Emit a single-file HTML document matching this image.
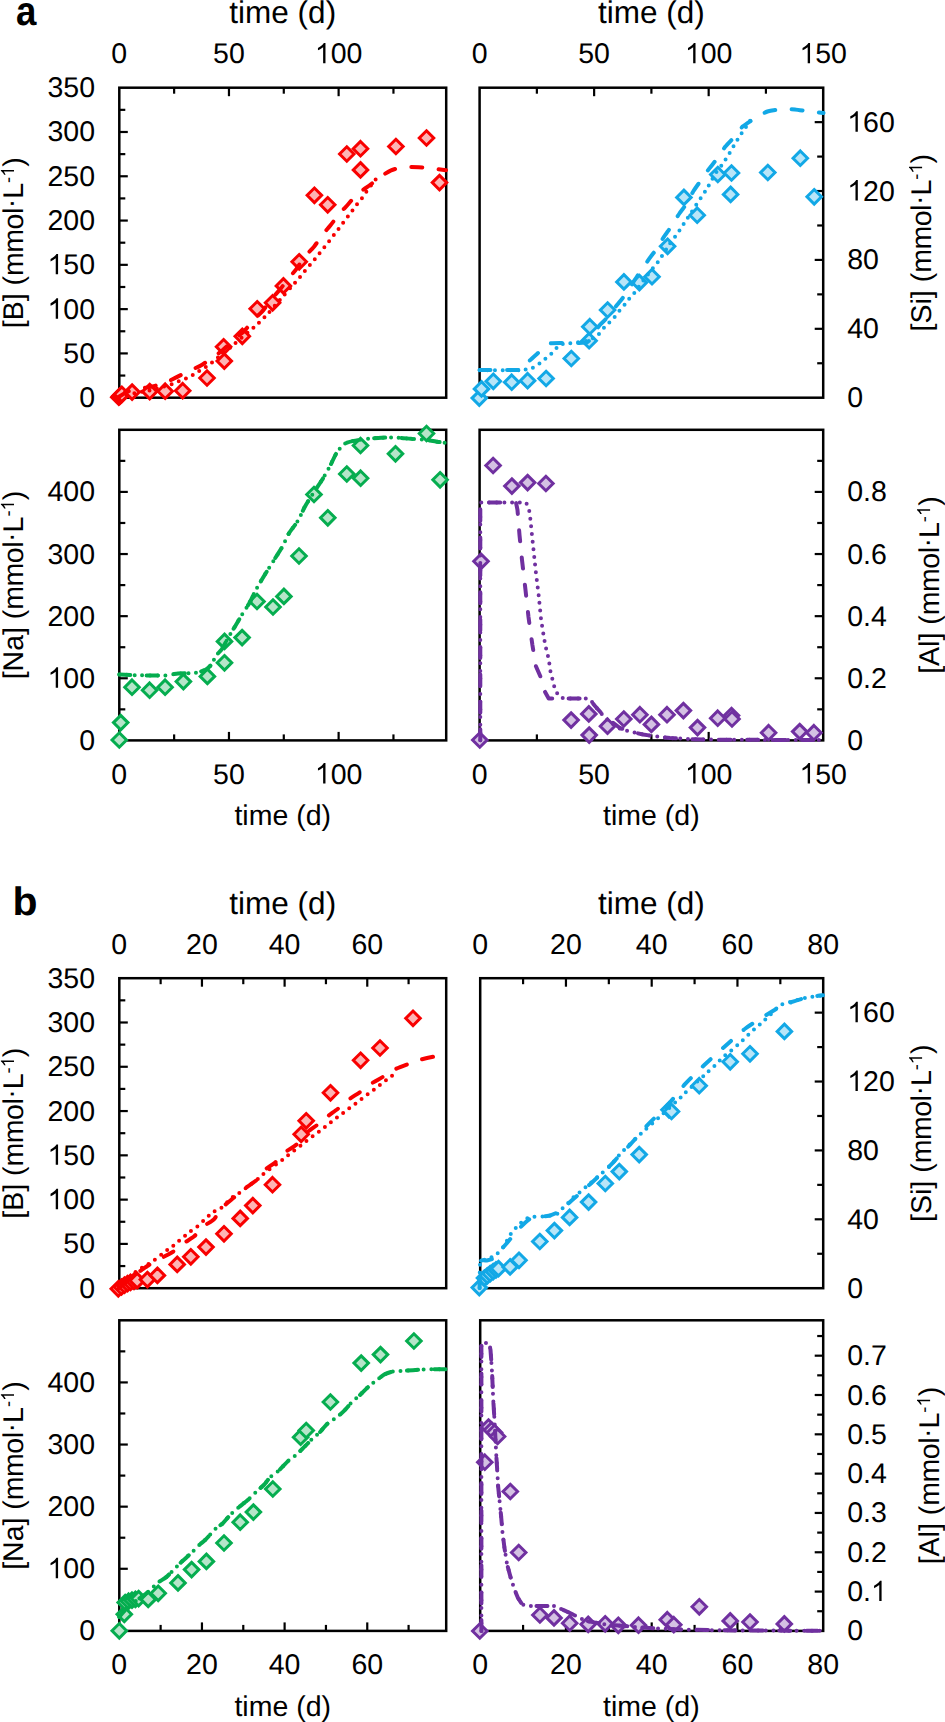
<!DOCTYPE html>
<html><head><meta charset="utf-8"><style>
html,body{margin:0;padding:0;background:#fff;}
svg{display:block;}
text{text-rendering:geometricPrecision;}
.t{font-family:"Liberation Sans", sans-serif;font-size:28.5px;fill:#000;}
.h{font-family:"Liberation Sans", sans-serif;font-size:28.5px;fill:#000;}
.h2{font-family:"Liberation Sans", sans-serif;font-size:31.5px;fill:#000;}
.p{font-family:"Liberation Sans", sans-serif;font-size:39px;font-weight:bold;fill:#000;}
</style></head><body>
<svg width="945" height="1722" viewBox="0 0 945 1722">
<defs><path id="one" d="M763,0 L595,0 L595,1147 Q525,1085 412,1023 Q307,961 223,930 L223,1104 Q374,1175 487,1276 Q600,1377 647,1466 L763,1466 Z" fill="#000"/></defs>
<rect width="945" height="1722" fill="#fff"/>
<text transform="translate(16.1,25.4) scale(0.94,1.045)" class="p">a</text>
<text x="282.75" y="23.1" text-anchor="middle" class="h2">time (d)</text>
<text x="651.4" y="23.1" text-anchor="middle" class="h2">time (d)</text>
<text x="282.75" y="825.3" text-anchor="middle" class="h">time (d)</text>
<text x="651.4" y="825.3" text-anchor="middle" class="h">time (d)</text>
<rect x="119.3" y="87.7" width="326.9" height="310" fill="none" stroke="#000" stroke-width="2.5"/>
<line x1="174.13" y1="87.7" x2="174.13" y2="93.7" stroke="#000" stroke-width="2.2"/>
<line x1="228.96" y1="87.7" x2="228.96" y2="96.2" stroke="#000" stroke-width="2.2"/>
<line x1="283.79" y1="87.7" x2="283.79" y2="93.7" stroke="#000" stroke-width="2.2"/>
<line x1="338.62" y1="87.7" x2="338.62" y2="96.2" stroke="#000" stroke-width="2.2"/>
<line x1="393.45" y1="87.7" x2="393.45" y2="93.7" stroke="#000" stroke-width="2.2"/>
<line x1="119.3" y1="375.56" x2="125.3" y2="375.56" stroke="#000" stroke-width="2.2"/>
<line x1="119.3" y1="353.41" x2="127.8" y2="353.41" stroke="#000" stroke-width="2.2"/>
<line x1="119.3" y1="331.27" x2="125.3" y2="331.27" stroke="#000" stroke-width="2.2"/>
<line x1="119.3" y1="309.13" x2="127.8" y2="309.13" stroke="#000" stroke-width="2.2"/>
<line x1="119.3" y1="286.99" x2="125.3" y2="286.99" stroke="#000" stroke-width="2.2"/>
<line x1="119.3" y1="264.84" x2="127.8" y2="264.84" stroke="#000" stroke-width="2.2"/>
<line x1="119.3" y1="242.7" x2="125.3" y2="242.7" stroke="#000" stroke-width="2.2"/>
<line x1="119.3" y1="220.56" x2="127.8" y2="220.56" stroke="#000" stroke-width="2.2"/>
<line x1="119.3" y1="198.41" x2="125.3" y2="198.41" stroke="#000" stroke-width="2.2"/>
<line x1="119.3" y1="176.27" x2="127.8" y2="176.27" stroke="#000" stroke-width="2.2"/>
<line x1="119.3" y1="154.13" x2="125.3" y2="154.13" stroke="#000" stroke-width="2.2"/>
<line x1="119.3" y1="131.99" x2="127.8" y2="131.99" stroke="#000" stroke-width="2.2"/>
<line x1="119.3" y1="109.84" x2="125.3" y2="109.84" stroke="#000" stroke-width="2.2"/>
<text x="111.37" y="63.3" class="t">0</text>
<text x="213.11" y="63.3" class="t">50</text>
<text x="314.85" y="63.3" class="t"> 00</text>
<use href="#one" transform="translate(314.85,63.30) scale(0.01392,-0.01392)"/>
<text x="79.15" y="407.2" class="t">0</text>
<text x="63.3" y="362.91" class="t">50</text>
<text x="47.45" y="318.63" class="t"> 00</text>
<use href="#one" transform="translate(47.45,318.63) scale(0.01392,-0.01392)"/>
<text x="47.45" y="274.34" class="t"> 50</text>
<use href="#one" transform="translate(47.45,274.34) scale(0.01392,-0.01392)"/>
<text x="47.45" y="230.06" class="t">200</text>
<text x="47.45" y="185.77" class="t">250</text>
<text x="47.45" y="141.49" class="t">300</text>
<text x="47.45" y="97.2" class="t">350</text>
<rect x="479.6" y="87.7" width="343.6" height="310" fill="none" stroke="#000" stroke-width="2.5"/>
<line x1="536.87" y1="87.7" x2="536.87" y2="93.7" stroke="#000" stroke-width="2.2"/>
<line x1="594.13" y1="87.7" x2="594.13" y2="96.2" stroke="#000" stroke-width="2.2"/>
<line x1="651.4" y1="87.7" x2="651.4" y2="93.7" stroke="#000" stroke-width="2.2"/>
<line x1="708.67" y1="87.7" x2="708.67" y2="96.2" stroke="#000" stroke-width="2.2"/>
<line x1="765.93" y1="87.7" x2="765.93" y2="93.7" stroke="#000" stroke-width="2.2"/>
<line x1="823.2" y1="363.26" x2="817.2" y2="363.26" stroke="#000" stroke-width="2.2"/>
<line x1="823.2" y1="328.81" x2="814.7" y2="328.81" stroke="#000" stroke-width="2.2"/>
<line x1="823.2" y1="294.37" x2="817.2" y2="294.37" stroke="#000" stroke-width="2.2"/>
<line x1="823.2" y1="259.92" x2="814.7" y2="259.92" stroke="#000" stroke-width="2.2"/>
<line x1="823.2" y1="225.48" x2="817.2" y2="225.48" stroke="#000" stroke-width="2.2"/>
<line x1="823.2" y1="191.03" x2="814.7" y2="191.03" stroke="#000" stroke-width="2.2"/>
<line x1="823.2" y1="156.59" x2="817.2" y2="156.59" stroke="#000" stroke-width="2.2"/>
<line x1="823.2" y1="122.14" x2="814.7" y2="122.14" stroke="#000" stroke-width="2.2"/>
<text x="471.67" y="63.3" class="t">0</text>
<text x="578.28" y="63.3" class="t">50</text>
<text x="684.89" y="63.3" class="t"> 00</text>
<use href="#one" transform="translate(684.89,63.30) scale(0.01392,-0.01392)"/>
<text x="799.42" y="63.3" class="t"> 50</text>
<use href="#one" transform="translate(799.42,63.30) scale(0.01392,-0.01392)"/>
<text x="847.2" y="407.2" class="t">0</text>
<text x="847.2" y="338.31" class="t">40</text>
<text x="847.2" y="269.42" class="t">80</text>
<text x="847.2" y="200.53" class="t"> 20</text>
<use href="#one" transform="translate(847.20,200.53) scale(0.01392,-0.01392)"/>
<text x="847.2" y="131.64" class="t"> 60</text>
<use href="#one" transform="translate(847.20,131.64) scale(0.01392,-0.01392)"/>
<rect x="119.3" y="429.8" width="326.9" height="310.6" fill="none" stroke="#000" stroke-width="2.5"/>
<line x1="174.13" y1="740.4" x2="174.13" y2="734.4" stroke="#000" stroke-width="2.2"/>
<line x1="228.96" y1="740.4" x2="228.96" y2="731.9" stroke="#000" stroke-width="2.2"/>
<line x1="283.79" y1="740.4" x2="283.79" y2="734.4" stroke="#000" stroke-width="2.2"/>
<line x1="338.62" y1="740.4" x2="338.62" y2="731.9" stroke="#000" stroke-width="2.2"/>
<line x1="393.45" y1="740.4" x2="393.45" y2="734.4" stroke="#000" stroke-width="2.2"/>
<line x1="119.3" y1="709.34" x2="125.3" y2="709.34" stroke="#000" stroke-width="2.2"/>
<line x1="119.3" y1="678.28" x2="127.8" y2="678.28" stroke="#000" stroke-width="2.2"/>
<line x1="119.3" y1="647.22" x2="125.3" y2="647.22" stroke="#000" stroke-width="2.2"/>
<line x1="119.3" y1="616.16" x2="127.8" y2="616.16" stroke="#000" stroke-width="2.2"/>
<line x1="119.3" y1="585.1" x2="125.3" y2="585.1" stroke="#000" stroke-width="2.2"/>
<line x1="119.3" y1="554.04" x2="127.8" y2="554.04" stroke="#000" stroke-width="2.2"/>
<line x1="119.3" y1="522.98" x2="125.3" y2="522.98" stroke="#000" stroke-width="2.2"/>
<line x1="119.3" y1="491.92" x2="127.8" y2="491.92" stroke="#000" stroke-width="2.2"/>
<line x1="119.3" y1="460.86" x2="125.3" y2="460.86" stroke="#000" stroke-width="2.2"/>
<text x="111.37" y="783.5" class="t">0</text>
<text x="213.11" y="783.5" class="t">50</text>
<text x="314.85" y="783.5" class="t"> 00</text>
<use href="#one" transform="translate(314.85,783.50) scale(0.01392,-0.01392)"/>
<text x="79.15" y="749.9" class="t">0</text>
<text x="47.45" y="687.78" class="t"> 00</text>
<use href="#one" transform="translate(47.45,687.78) scale(0.01392,-0.01392)"/>
<text x="47.45" y="625.66" class="t">200</text>
<text x="47.45" y="563.54" class="t">300</text>
<text x="47.45" y="501.42" class="t">400</text>
<rect x="479.6" y="429.8" width="343.6" height="310.6" fill="none" stroke="#000" stroke-width="2.5"/>
<line x1="536.87" y1="740.4" x2="536.87" y2="734.4" stroke="#000" stroke-width="2.2"/>
<line x1="594.13" y1="740.4" x2="594.13" y2="731.9" stroke="#000" stroke-width="2.2"/>
<line x1="651.4" y1="740.4" x2="651.4" y2="734.4" stroke="#000" stroke-width="2.2"/>
<line x1="708.67" y1="740.4" x2="708.67" y2="731.9" stroke="#000" stroke-width="2.2"/>
<line x1="765.93" y1="740.4" x2="765.93" y2="734.4" stroke="#000" stroke-width="2.2"/>
<line x1="823.2" y1="709.34" x2="817.2" y2="709.34" stroke="#000" stroke-width="2.2"/>
<line x1="823.2" y1="678.28" x2="814.7" y2="678.28" stroke="#000" stroke-width="2.2"/>
<line x1="823.2" y1="647.22" x2="817.2" y2="647.22" stroke="#000" stroke-width="2.2"/>
<line x1="823.2" y1="616.16" x2="814.7" y2="616.16" stroke="#000" stroke-width="2.2"/>
<line x1="823.2" y1="585.1" x2="817.2" y2="585.1" stroke="#000" stroke-width="2.2"/>
<line x1="823.2" y1="554.04" x2="814.7" y2="554.04" stroke="#000" stroke-width="2.2"/>
<line x1="823.2" y1="522.98" x2="817.2" y2="522.98" stroke="#000" stroke-width="2.2"/>
<line x1="823.2" y1="491.92" x2="814.7" y2="491.92" stroke="#000" stroke-width="2.2"/>
<line x1="823.2" y1="460.86" x2="817.2" y2="460.86" stroke="#000" stroke-width="2.2"/>
<text x="471.67" y="783.5" class="t">0</text>
<text x="578.28" y="783.5" class="t">50</text>
<text x="684.89" y="783.5" class="t"> 00</text>
<use href="#one" transform="translate(684.89,783.50) scale(0.01392,-0.01392)"/>
<text x="799.42" y="783.5" class="t"> 50</text>
<use href="#one" transform="translate(799.42,783.50) scale(0.01392,-0.01392)"/>
<text x="847.2" y="749.9" class="t">0</text>
<text x="847.2" y="687.78" class="t">0.2</text>
<text x="847.2" y="625.66" class="t">0.4</text>
<text x="847.2" y="563.54" class="t">0.6</text>
<text x="847.2" y="501.42" class="t">0.8</text>
<g transform="translate(22.7,242.7) rotate(-90)">
<text x="-85.56" y="0" style="font-size:28.5px" class="h">[</text>
<text x="-77.64" y="0" style="font-size:28.5px" class="h">B</text>
<text x="-58.63" y="0" style="font-size:28.5px" class="h">]</text>
<text x="-42.80" y="0" style="font-size:28.5px" class="h">(</text>
<text x="-33.31" y="0" style="font-size:28.5px" class="h">m</text>
<text x="-10.04" y="0" style="font-size:28.5px" class="h">m</text>
<text x="13.23" y="0" style="font-size:28.5px" class="h">o</text>
<text x="28.60" y="0" style="font-size:28.5px" class="h">l</text>
<text x="34.46" y="-2.7" style="font-size:28.5px" class="h">·</text>
<text x="43.95" y="0" style="font-size:28.5px" class="h">L</text>
<text x="59.80" y="-8.7" style="font-size:18.3px" class="h">-</text>
<use href="#one" transform="translate(65.89,-8.7) scale(0.00894,-0.00894)"/>
<text x="76.07" y="0" style="font-size:28.5px" class="h">)</text>
</g>
<g transform="translate(22.7,585.1) rotate(-90)">
<text x="-94.27" y="0" style="font-size:28.5px" class="h">[</text>
<text x="-86.35" y="0" style="font-size:28.5px" class="h">N</text>
<text x="-65.77" y="0" style="font-size:28.5px" class="h">a</text>
<text x="-49.92" y="0" style="font-size:28.5px" class="h">]</text>
<text x="-34.09" y="0" style="font-size:28.5px" class="h">(</text>
<text x="-24.59" y="0" style="font-size:28.5px" class="h">m</text>
<text x="-1.33" y="0" style="font-size:28.5px" class="h">m</text>
<text x="21.94" y="0" style="font-size:28.5px" class="h">o</text>
<text x="37.31" y="0" style="font-size:28.5px" class="h">l</text>
<text x="43.17" y="-2.7" style="font-size:28.5px" class="h">·</text>
<text x="52.66" y="0" style="font-size:28.5px" class="h">L</text>
<text x="68.51" y="-8.7" style="font-size:18.3px" class="h">-</text>
<use href="#one" transform="translate(74.60,-8.7) scale(0.00894,-0.00894)"/>
<text x="84.78" y="0" style="font-size:28.5px" class="h">)</text>
</g>
<g transform="translate(930.8,242.7) rotate(-90)">
<text x="-88.73" y="0" style="font-size:28.5px" class="h">[</text>
<text x="-80.81" y="0" style="font-size:28.5px" class="h">S</text>
<text x="-61.80" y="0" style="font-size:28.5px" class="h">i</text>
<text x="-55.47" y="0" style="font-size:28.5px" class="h">]</text>
<text x="-39.63" y="0" style="font-size:28.5px" class="h">(</text>
<text x="-30.14" y="0" style="font-size:28.5px" class="h">m</text>
<text x="-6.87" y="0" style="font-size:28.5px" class="h">m</text>
<text x="16.39" y="0" style="font-size:28.5px" class="h">o</text>
<text x="31.77" y="0" style="font-size:28.5px" class="h">l</text>
<text x="37.62" y="-2.7" style="font-size:28.5px" class="h">·</text>
<text x="47.11" y="0" style="font-size:28.5px" class="h">L</text>
<text x="62.96" y="-8.7" style="font-size:18.3px" class="h">-</text>
<use href="#one" transform="translate(69.06,-8.7) scale(0.00894,-0.00894)"/>
<text x="79.24" y="0" style="font-size:28.5px" class="h">)</text>
</g>
<g transform="translate(938.8,585.1) rotate(-90)">
<text x="-88.73" y="0" style="font-size:28.5px" class="h">[</text>
<text x="-80.81" y="0" style="font-size:28.5px" class="h">A</text>
<text x="-61.80" y="0" style="font-size:28.5px" class="h">l</text>
<text x="-55.47" y="0" style="font-size:28.5px" class="h">]</text>
<text x="-39.63" y="0" style="font-size:28.5px" class="h">(</text>
<text x="-30.14" y="0" style="font-size:28.5px" class="h">m</text>
<text x="-6.87" y="0" style="font-size:28.5px" class="h">m</text>
<text x="16.39" y="0" style="font-size:28.5px" class="h">o</text>
<text x="31.77" y="0" style="font-size:28.5px" class="h">l</text>
<text x="37.62" y="-2.7" style="font-size:28.5px" class="h">·</text>
<text x="47.11" y="0" style="font-size:28.5px" class="h">L</text>
<text x="62.96" y="-8.7" style="font-size:18.3px" class="h">-</text>
<use href="#one" transform="translate(69.06,-8.7) scale(0.00894,-0.00894)"/>
<text x="79.24" y="0" style="font-size:28.5px" class="h">)</text>
</g>
<text transform="translate(12.6,915.4) scale(1.05,1.02)" class="p">b</text>
<text x="282.75" y="913.6" text-anchor="middle" class="h2">time (d)</text>
<text x="651.4" y="913.6" text-anchor="middle" class="h2">time (d)</text>
<text x="282.75" y="1715.8" text-anchor="middle" class="h">time (d)</text>
<text x="651.4" y="1715.8" text-anchor="middle" class="h">time (d)</text>
<rect x="119.3" y="978.2" width="326.9" height="310" fill="none" stroke="#000" stroke-width="2.5"/>
<line x1="160.63" y1="978.2" x2="160.63" y2="984.2" stroke="#000" stroke-width="2.2"/>
<line x1="201.95" y1="978.2" x2="201.95" y2="986.7" stroke="#000" stroke-width="2.2"/>
<line x1="243.28" y1="978.2" x2="243.28" y2="984.2" stroke="#000" stroke-width="2.2"/>
<line x1="284.61" y1="978.2" x2="284.61" y2="986.7" stroke="#000" stroke-width="2.2"/>
<line x1="325.94" y1="978.2" x2="325.94" y2="984.2" stroke="#000" stroke-width="2.2"/>
<line x1="367.26" y1="978.2" x2="367.26" y2="986.7" stroke="#000" stroke-width="2.2"/>
<line x1="408.59" y1="978.2" x2="408.59" y2="984.2" stroke="#000" stroke-width="2.2"/>
<line x1="119.3" y1="1266.06" x2="125.3" y2="1266.06" stroke="#000" stroke-width="2.2"/>
<line x1="119.3" y1="1243.91" x2="127.8" y2="1243.91" stroke="#000" stroke-width="2.2"/>
<line x1="119.3" y1="1221.77" x2="125.3" y2="1221.77" stroke="#000" stroke-width="2.2"/>
<line x1="119.3" y1="1199.63" x2="127.8" y2="1199.63" stroke="#000" stroke-width="2.2"/>
<line x1="119.3" y1="1177.49" x2="125.3" y2="1177.49" stroke="#000" stroke-width="2.2"/>
<line x1="119.3" y1="1155.34" x2="127.8" y2="1155.34" stroke="#000" stroke-width="2.2"/>
<line x1="119.3" y1="1133.2" x2="125.3" y2="1133.2" stroke="#000" stroke-width="2.2"/>
<line x1="119.3" y1="1111.06" x2="127.8" y2="1111.06" stroke="#000" stroke-width="2.2"/>
<line x1="119.3" y1="1088.91" x2="125.3" y2="1088.91" stroke="#000" stroke-width="2.2"/>
<line x1="119.3" y1="1066.77" x2="127.8" y2="1066.77" stroke="#000" stroke-width="2.2"/>
<line x1="119.3" y1="1044.63" x2="125.3" y2="1044.63" stroke="#000" stroke-width="2.2"/>
<line x1="119.3" y1="1022.49" x2="127.8" y2="1022.49" stroke="#000" stroke-width="2.2"/>
<line x1="119.3" y1="1000.34" x2="125.3" y2="1000.34" stroke="#000" stroke-width="2.2"/>
<text x="111.37" y="953.8" class="t">0</text>
<text x="186.1" y="953.8" class="t">20</text>
<text x="268.76" y="953.8" class="t">40</text>
<text x="351.41" y="953.8" class="t">60</text>
<text x="79.15" y="1297.7" class="t">0</text>
<text x="63.3" y="1253.41" class="t">50</text>
<text x="47.45" y="1209.13" class="t"> 00</text>
<use href="#one" transform="translate(47.45,1209.13) scale(0.01392,-0.01392)"/>
<text x="47.45" y="1164.84" class="t"> 50</text>
<use href="#one" transform="translate(47.45,1164.84) scale(0.01392,-0.01392)"/>
<text x="47.45" y="1120.56" class="t">200</text>
<text x="47.45" y="1076.27" class="t">250</text>
<text x="47.45" y="1031.99" class="t">300</text>
<text x="47.45" y="987.7" class="t">350</text>
<rect x="480.2" y="978.2" width="343" height="310" fill="none" stroke="#000" stroke-width="2.5"/>
<line x1="523.08" y1="978.2" x2="523.08" y2="984.2" stroke="#000" stroke-width="2.2"/>
<line x1="565.95" y1="978.2" x2="565.95" y2="986.7" stroke="#000" stroke-width="2.2"/>
<line x1="608.83" y1="978.2" x2="608.83" y2="984.2" stroke="#000" stroke-width="2.2"/>
<line x1="651.7" y1="978.2" x2="651.7" y2="986.7" stroke="#000" stroke-width="2.2"/>
<line x1="694.58" y1="978.2" x2="694.58" y2="984.2" stroke="#000" stroke-width="2.2"/>
<line x1="737.45" y1="978.2" x2="737.45" y2="986.7" stroke="#000" stroke-width="2.2"/>
<line x1="780.33" y1="978.2" x2="780.33" y2="984.2" stroke="#000" stroke-width="2.2"/>
<line x1="823.2" y1="1253.76" x2="817.2" y2="1253.76" stroke="#000" stroke-width="2.2"/>
<line x1="823.2" y1="1219.31" x2="814.7" y2="1219.31" stroke="#000" stroke-width="2.2"/>
<line x1="823.2" y1="1184.87" x2="817.2" y2="1184.87" stroke="#000" stroke-width="2.2"/>
<line x1="823.2" y1="1150.42" x2="814.7" y2="1150.42" stroke="#000" stroke-width="2.2"/>
<line x1="823.2" y1="1115.98" x2="817.2" y2="1115.98" stroke="#000" stroke-width="2.2"/>
<line x1="823.2" y1="1081.53" x2="814.7" y2="1081.53" stroke="#000" stroke-width="2.2"/>
<line x1="823.2" y1="1047.09" x2="817.2" y2="1047.09" stroke="#000" stroke-width="2.2"/>
<line x1="823.2" y1="1012.64" x2="814.7" y2="1012.64" stroke="#000" stroke-width="2.2"/>
<text x="472.27" y="953.8" class="t">0</text>
<text x="550.1" y="953.8" class="t">20</text>
<text x="635.85" y="953.8" class="t">40</text>
<text x="721.6" y="953.8" class="t">60</text>
<text x="807.35" y="953.8" class="t">80</text>
<text x="847.2" y="1297.7" class="t">0</text>
<text x="847.2" y="1228.81" class="t">40</text>
<text x="847.2" y="1159.92" class="t">80</text>
<text x="847.2" y="1091.03" class="t"> 20</text>
<use href="#one" transform="translate(847.20,1091.03) scale(0.01392,-0.01392)"/>
<text x="847.2" y="1022.14" class="t"> 60</text>
<use href="#one" transform="translate(847.20,1022.14) scale(0.01392,-0.01392)"/>
<rect x="119.3" y="1320.3" width="326.9" height="310.6" fill="none" stroke="#000" stroke-width="2.5"/>
<line x1="160.63" y1="1630.9" x2="160.63" y2="1624.9" stroke="#000" stroke-width="2.2"/>
<line x1="201.95" y1="1630.9" x2="201.95" y2="1622.4" stroke="#000" stroke-width="2.2"/>
<line x1="243.28" y1="1630.9" x2="243.28" y2="1624.9" stroke="#000" stroke-width="2.2"/>
<line x1="284.61" y1="1630.9" x2="284.61" y2="1622.4" stroke="#000" stroke-width="2.2"/>
<line x1="325.94" y1="1630.9" x2="325.94" y2="1624.9" stroke="#000" stroke-width="2.2"/>
<line x1="367.26" y1="1630.9" x2="367.26" y2="1622.4" stroke="#000" stroke-width="2.2"/>
<line x1="408.59" y1="1630.9" x2="408.59" y2="1624.9" stroke="#000" stroke-width="2.2"/>
<line x1="119.3" y1="1599.84" x2="125.3" y2="1599.84" stroke="#000" stroke-width="2.2"/>
<line x1="119.3" y1="1568.78" x2="127.8" y2="1568.78" stroke="#000" stroke-width="2.2"/>
<line x1="119.3" y1="1537.72" x2="125.3" y2="1537.72" stroke="#000" stroke-width="2.2"/>
<line x1="119.3" y1="1506.66" x2="127.8" y2="1506.66" stroke="#000" stroke-width="2.2"/>
<line x1="119.3" y1="1475.6" x2="125.3" y2="1475.6" stroke="#000" stroke-width="2.2"/>
<line x1="119.3" y1="1444.54" x2="127.8" y2="1444.54" stroke="#000" stroke-width="2.2"/>
<line x1="119.3" y1="1413.48" x2="125.3" y2="1413.48" stroke="#000" stroke-width="2.2"/>
<line x1="119.3" y1="1382.42" x2="127.8" y2="1382.42" stroke="#000" stroke-width="2.2"/>
<line x1="119.3" y1="1351.36" x2="125.3" y2="1351.36" stroke="#000" stroke-width="2.2"/>
<text x="111.37" y="1674" class="t">0</text>
<text x="186.1" y="1674" class="t">20</text>
<text x="268.76" y="1674" class="t">40</text>
<text x="351.41" y="1674" class="t">60</text>
<text x="79.15" y="1640.4" class="t">0</text>
<text x="47.45" y="1578.28" class="t"> 00</text>
<use href="#one" transform="translate(47.45,1578.28) scale(0.01392,-0.01392)"/>
<text x="47.45" y="1516.16" class="t">200</text>
<text x="47.45" y="1454.04" class="t">300</text>
<text x="47.45" y="1391.92" class="t">400</text>
<rect x="480.2" y="1320.3" width="343" height="310.6" fill="none" stroke="#000" stroke-width="2.5"/>
<line x1="523.08" y1="1630.9" x2="523.08" y2="1624.9" stroke="#000" stroke-width="2.2"/>
<line x1="565.95" y1="1630.9" x2="565.95" y2="1622.4" stroke="#000" stroke-width="2.2"/>
<line x1="608.83" y1="1630.9" x2="608.83" y2="1624.9" stroke="#000" stroke-width="2.2"/>
<line x1="651.7" y1="1630.9" x2="651.7" y2="1622.4" stroke="#000" stroke-width="2.2"/>
<line x1="694.58" y1="1630.9" x2="694.58" y2="1624.9" stroke="#000" stroke-width="2.2"/>
<line x1="737.45" y1="1630.9" x2="737.45" y2="1622.4" stroke="#000" stroke-width="2.2"/>
<line x1="780.33" y1="1630.9" x2="780.33" y2="1624.9" stroke="#000" stroke-width="2.2"/>
<line x1="823.2" y1="1611.24" x2="817.2" y2="1611.24" stroke="#000" stroke-width="2.2"/>
<line x1="823.2" y1="1591.58" x2="814.7" y2="1591.58" stroke="#000" stroke-width="2.2"/>
<line x1="823.2" y1="1571.93" x2="817.2" y2="1571.93" stroke="#000" stroke-width="2.2"/>
<line x1="823.2" y1="1552.27" x2="814.7" y2="1552.27" stroke="#000" stroke-width="2.2"/>
<line x1="823.2" y1="1532.61" x2="817.2" y2="1532.61" stroke="#000" stroke-width="2.2"/>
<line x1="823.2" y1="1512.95" x2="814.7" y2="1512.95" stroke="#000" stroke-width="2.2"/>
<line x1="823.2" y1="1493.29" x2="817.2" y2="1493.29" stroke="#000" stroke-width="2.2"/>
<line x1="823.2" y1="1473.63" x2="814.7" y2="1473.63" stroke="#000" stroke-width="2.2"/>
<line x1="823.2" y1="1453.98" x2="817.2" y2="1453.98" stroke="#000" stroke-width="2.2"/>
<line x1="823.2" y1="1434.32" x2="814.7" y2="1434.32" stroke="#000" stroke-width="2.2"/>
<line x1="823.2" y1="1414.66" x2="817.2" y2="1414.66" stroke="#000" stroke-width="2.2"/>
<line x1="823.2" y1="1395" x2="814.7" y2="1395" stroke="#000" stroke-width="2.2"/>
<line x1="823.2" y1="1375.34" x2="817.2" y2="1375.34" stroke="#000" stroke-width="2.2"/>
<line x1="823.2" y1="1355.68" x2="814.7" y2="1355.68" stroke="#000" stroke-width="2.2"/>
<line x1="823.2" y1="1336.03" x2="817.2" y2="1336.03" stroke="#000" stroke-width="2.2"/>
<text x="472.27" y="1674" class="t">0</text>
<text x="550.1" y="1674" class="t">20</text>
<text x="635.85" y="1674" class="t">40</text>
<text x="721.6" y="1674" class="t">60</text>
<text x="807.35" y="1674" class="t">80</text>
<text x="847.2" y="1640.4" class="t">0</text>
<text x="847.2" y="1601.08" class="t">0. </text>
<use href="#one" transform="translate(870.97,1601.08) scale(0.01392,-0.01392)"/>
<text x="847.2" y="1561.77" class="t">0.2</text>
<text x="847.2" y="1522.45" class="t">0.3</text>
<text x="847.2" y="1483.13" class="t">0.4</text>
<text x="847.2" y="1443.82" class="t">0.5</text>
<text x="847.2" y="1404.5" class="t">0.6</text>
<text x="847.2" y="1365.18" class="t">0.7</text>
<g transform="translate(22.7,1133.2) rotate(-90)">
<text x="-85.56" y="0" style="font-size:28.5px" class="h">[</text>
<text x="-77.64" y="0" style="font-size:28.5px" class="h">B</text>
<text x="-58.63" y="0" style="font-size:28.5px" class="h">]</text>
<text x="-42.80" y="0" style="font-size:28.5px" class="h">(</text>
<text x="-33.31" y="0" style="font-size:28.5px" class="h">m</text>
<text x="-10.04" y="0" style="font-size:28.5px" class="h">m</text>
<text x="13.23" y="0" style="font-size:28.5px" class="h">o</text>
<text x="28.60" y="0" style="font-size:28.5px" class="h">l</text>
<text x="34.46" y="-2.7" style="font-size:28.5px" class="h">·</text>
<text x="43.95" y="0" style="font-size:28.5px" class="h">L</text>
<text x="59.80" y="-8.7" style="font-size:18.3px" class="h">-</text>
<use href="#one" transform="translate(65.89,-8.7) scale(0.00894,-0.00894)"/>
<text x="76.07" y="0" style="font-size:28.5px" class="h">)</text>
</g>
<g transform="translate(22.7,1475.6) rotate(-90)">
<text x="-94.27" y="0" style="font-size:28.5px" class="h">[</text>
<text x="-86.35" y="0" style="font-size:28.5px" class="h">N</text>
<text x="-65.77" y="0" style="font-size:28.5px" class="h">a</text>
<text x="-49.92" y="0" style="font-size:28.5px" class="h">]</text>
<text x="-34.09" y="0" style="font-size:28.5px" class="h">(</text>
<text x="-24.59" y="0" style="font-size:28.5px" class="h">m</text>
<text x="-1.33" y="0" style="font-size:28.5px" class="h">m</text>
<text x="21.94" y="0" style="font-size:28.5px" class="h">o</text>
<text x="37.31" y="0" style="font-size:28.5px" class="h">l</text>
<text x="43.17" y="-2.7" style="font-size:28.5px" class="h">·</text>
<text x="52.66" y="0" style="font-size:28.5px" class="h">L</text>
<text x="68.51" y="-8.7" style="font-size:18.3px" class="h">-</text>
<use href="#one" transform="translate(74.60,-8.7) scale(0.00894,-0.00894)"/>
<text x="84.78" y="0" style="font-size:28.5px" class="h">)</text>
</g>
<g transform="translate(930.8,1133.2) rotate(-90)">
<text x="-88.73" y="0" style="font-size:28.5px" class="h">[</text>
<text x="-80.81" y="0" style="font-size:28.5px" class="h">S</text>
<text x="-61.80" y="0" style="font-size:28.5px" class="h">i</text>
<text x="-55.47" y="0" style="font-size:28.5px" class="h">]</text>
<text x="-39.63" y="0" style="font-size:28.5px" class="h">(</text>
<text x="-30.14" y="0" style="font-size:28.5px" class="h">m</text>
<text x="-6.87" y="0" style="font-size:28.5px" class="h">m</text>
<text x="16.39" y="0" style="font-size:28.5px" class="h">o</text>
<text x="31.77" y="0" style="font-size:28.5px" class="h">l</text>
<text x="37.62" y="-2.7" style="font-size:28.5px" class="h">·</text>
<text x="47.11" y="0" style="font-size:28.5px" class="h">L</text>
<text x="62.96" y="-8.7" style="font-size:18.3px" class="h">-</text>
<use href="#one" transform="translate(69.06,-8.7) scale(0.00894,-0.00894)"/>
<text x="79.24" y="0" style="font-size:28.5px" class="h">)</text>
</g>
<g transform="translate(938.8,1475.6) rotate(-90)">
<text x="-88.73" y="0" style="font-size:28.5px" class="h">[</text>
<text x="-80.81" y="0" style="font-size:28.5px" class="h">A</text>
<text x="-61.80" y="0" style="font-size:28.5px" class="h">l</text>
<text x="-55.47" y="0" style="font-size:28.5px" class="h">]</text>
<text x="-39.63" y="0" style="font-size:28.5px" class="h">(</text>
<text x="-30.14" y="0" style="font-size:28.5px" class="h">m</text>
<text x="-6.87" y="0" style="font-size:28.5px" class="h">m</text>
<text x="16.39" y="0" style="font-size:28.5px" class="h">o</text>
<text x="31.77" y="0" style="font-size:28.5px" class="h">l</text>
<text x="37.62" y="-2.7" style="font-size:28.5px" class="h">·</text>
<text x="47.11" y="0" style="font-size:28.5px" class="h">L</text>
<text x="62.96" y="-8.7" style="font-size:18.3px" class="h">-</text>
<use href="#one" transform="translate(69.06,-8.7) scale(0.00894,-0.00894)"/>
<text x="79.24" y="0" style="font-size:28.5px" class="h">)</text>
</g>
<path d="M118.8,389.95 L126.05,397.2 L118.8,404.45 L111.55,397.2 Z" fill="#fdb4b4" stroke="#f80000" stroke-width="3.0"/>
<path d="M119.7,389.05 L126.95,396.3 L119.7,403.55 L112.45,396.3 Z" fill="#fdb4b4" stroke="#f80000" stroke-width="3.0"/>
<path d="M120.6,388.15 L127.85,395.4 L120.6,402.65 L113.35,395.4 Z" fill="#fdb4b4" stroke="#f80000" stroke-width="3.0"/>
<path d="M121.8,387.05 L129.05,394.3 L121.8,401.55 L114.55,394.3 Z" fill="#fdb4b4" stroke="#f80000" stroke-width="3.0"/>
<path d="M132.1,384.85 L139.35,392.1 L132.1,399.35 L124.85,392.1 Z" fill="#fdb4b4" stroke="#f80000" stroke-width="3.0"/>
<path d="M149.7,384.35 L156.95,391.6 L149.7,398.85 L142.45,391.6 Z" fill="#fdb4b4" stroke="#f80000" stroke-width="3.0"/>
<path d="M165.2,383.95 L172.45,391.2 L165.2,398.45 L157.95,391.2 Z" fill="#fdb4b4" stroke="#f80000" stroke-width="3.0"/>
<path d="M182.7,383.45 L189.95,390.7 L182.7,397.95 L175.45,390.7 Z" fill="#fdb4b4" stroke="#f80000" stroke-width="3.0"/>
<path d="M207,370.75 L214.25,378 L207,385.25 L199.75,378 Z" fill="#fdb4b4" stroke="#f80000" stroke-width="3.0"/>
<path d="M224.3,353.85 L231.55,361.1 L224.3,368.35 L217.05,361.1 Z" fill="#fdb4b4" stroke="#f80000" stroke-width="3.0"/>
<path d="M223.6,339.55 L230.85,346.8 L223.6,354.05 L216.35,346.8 Z" fill="#fdb4b4" stroke="#f80000" stroke-width="3.0"/>
<path d="M242.3,329.05 L249.55,336.3 L242.3,343.55 L235.05,336.3 Z" fill="#fdb4b4" stroke="#f80000" stroke-width="3.0"/>
<path d="M257.2,301.55 L264.45,308.8 L257.2,316.05 L249.95,308.8 Z" fill="#fdb4b4" stroke="#f80000" stroke-width="3.0"/>
<path d="M272.6,295.55 L279.85,302.8 L272.6,310.05 L265.35,302.8 Z" fill="#fdb4b4" stroke="#f80000" stroke-width="3.0"/>
<path d="M283.4,278.65 L290.65,285.9 L283.4,293.15 L276.15,285.9 Z" fill="#fdb4b4" stroke="#f80000" stroke-width="3.0"/>
<path d="M299.2,254.55 L306.45,261.8 L299.2,269.05 L291.95,261.8 Z" fill="#fdb4b4" stroke="#f80000" stroke-width="3.0"/>
<path d="M314.4,188.05 L321.65,195.3 L314.4,202.55 L307.15,195.3 Z" fill="#fdb4b4" stroke="#f80000" stroke-width="3.0"/>
<path d="M327.7,197.55 L334.95,204.8 L327.7,212.05 L320.45,204.8 Z" fill="#fdb4b4" stroke="#f80000" stroke-width="3.0"/>
<path d="M346.8,146.75 L354.05,154 L346.8,161.25 L339.55,154 Z" fill="#fdb4b4" stroke="#f80000" stroke-width="3.0"/>
<path d="M360.5,141.45 L367.75,148.7 L360.5,155.95 L353.25,148.7 Z" fill="#fdb4b4" stroke="#f80000" stroke-width="3.0"/>
<path d="M360.5,162.65 L367.75,169.9 L360.5,177.15 L353.25,169.9 Z" fill="#fdb4b4" stroke="#f80000" stroke-width="3.0"/>
<path d="M395.9,139.25 L403.15,146.5 L395.9,153.75 L388.65,146.5 Z" fill="#fdb4b4" stroke="#f80000" stroke-width="3.0"/>
<path d="M426.5,130.75 L433.75,138 L426.5,145.25 L419.25,138 Z" fill="#fdb4b4" stroke="#f80000" stroke-width="3.0"/>
<path d="M439.5,175.35 L446.75,182.6 L439.5,189.85 L432.25,182.6 Z" fill="#fdb4b4" stroke="#f80000" stroke-width="3.0"/>
<path d="M119.3,396.5 C120.08,396.03 124.26,393.38 126,392.5 C127.74,391.62 131.84,389.57 134.2,389 C136.56,388.43 143.66,388.01 146.2,387.6 C148.74,387.19 153.68,386.11 156,385.5 C158.32,384.89 163.74,383.34 166.1,382.4 C168.46,381.45 173.43,378.78 176.2,377.4 C178.97,376.02 186.93,371.99 189.8,370.6 C192.67,369.21 198.04,367.09 200.8,365.5 C203.56,363.91 210.93,358.81 213.5,357 C216.07,355.19 220.13,352.26 222.8,350 C225.47,347.74 233.83,339.88 236.4,337.6 C238.97,335.33 242.83,332.58 244.8,330.5 C246.77,328.42 251.32,321.96 253.3,319.8 C255.28,317.64 259.63,314.47 261.8,312 C263.97,309.53 269.73,301.28 271.9,298.6 C274.07,295.92 278.45,291.37 280.4,289 C282.35,286.63 286.77,280.59 288.6,278.3 C290.43,276.01 294.26,271.88 296.1,269.4 C297.94,266.91 302.31,259.65 304.4,257 C306.49,254.35 311.91,249.27 314,246.7 C316.09,244.13 320.38,237.5 322.3,235 C324.23,232.5 328.49,227.79 330.5,225.3 C332.51,222.81 337.41,216.19 339.5,213.7 C341.59,211.21 346.36,206.3 348.4,204 C350.44,201.7 355.06,195.81 357,194 C358.94,192.19 363.25,189.72 365,188.5 C366.75,187.28 370.32,184.78 372,183.5 C373.68,182.22 377.17,179.04 379.4,177.5 C381.63,175.96 388.24,171.51 391.1,170.3 C393.96,169.09 400.68,167.46 403.9,167.1 C407.12,166.74 415.49,167.07 418.7,167.2 C421.91,167.33 428.21,167.84 431.4,168.2 C434.58,168.56 444.3,170.06 446,170.3" fill="none" stroke="#f80000" stroke-width="4.0" stroke-dasharray="11 16.4" stroke-linecap="round" stroke-linejoin="round"/>
<path d="M119.3,397 C121.13,396.53 131.42,393.76 135,393 C138.58,392.24 146.85,391.2 150,390.5 C153.15,389.8 159.13,387.84 162,387 C164.87,386.16 172.35,384.13 174.6,383.3 C176.85,382.47 179.63,380.59 181.3,379.9 C182.97,379.21 187.22,378.19 188.9,377.4 C190.58,376.61 194.11,374.09 195.7,373.1 C197.29,372.11 200.91,369.88 202.5,368.9 C204.09,367.92 207.14,366.32 209.3,364.7 C211.46,363.08 218.24,357.27 221,355 C223.76,352.73 229.53,348.12 233,345.2 C236.47,342.28 247.94,332.37 250.7,330 C253.46,327.63 255.4,326.09 256.7,324.9 C258,323.71 260.52,321.08 261.8,319.8 C263.08,318.52 265.21,316.65 267.7,313.9 C270.19,311.15 280.1,299.63 283.1,296.2 C286.1,292.77 291.56,286.59 293.4,284.5 C295.24,282.41 297.7,279.7 298.9,278.3 C300.1,276.9 302.5,273.95 303.7,272.5 C304.9,271.05 308,267.33 309.2,265.9 C310.4,264.46 312.88,261.56 314,260.2 C315.12,258.83 317.67,255.62 318.8,254.2 C319.93,252.78 322.57,249.44 323.7,248 C324.83,246.56 327.38,243.34 328.5,241.9 C329.62,240.47 332.18,237.15 333.3,235.7 C334.42,234.25 336.98,230.98 338.1,229.5 C339.22,228.02 341.78,224.49 342.9,223 C344.02,221.51 346.6,218.15 347.7,216.7 C348.8,215.25 351.23,212.05 352.3,210.6 C353.37,209.15 355.78,205.75 356.9,204.3 C358.02,202.85 360.8,199.65 361.9,198.2 C363,196.75 365.24,193.38 366.3,191.9 C367.36,190.42 369.9,186.97 371,185.5 C372.1,184.03 374.82,180.35 375.7,179.3 C376.57,178.25 378.17,176.83 378.5,176.5" fill="none" stroke="#f80000" stroke-width="4.0" stroke-dasharray="0 7.7" stroke-linecap="round" stroke-linejoin="round"/>
<path d="M479.3,390.85 L486.55,398.1 L479.3,405.35 L472.05,398.1 Z" fill="#b8e5f8" stroke="#12a8e6" stroke-width="3.0"/>
<path d="M481.5,381.65 L488.75,388.9 L481.5,396.15 L474.25,388.9 Z" fill="#b8e5f8" stroke="#12a8e6" stroke-width="3.0"/>
<path d="M493.3,374.05 L500.55,381.3 L493.3,388.55 L486.05,381.3 Z" fill="#b8e5f8" stroke="#12a8e6" stroke-width="3.0"/>
<path d="M511.7,374.95 L518.95,382.2 L511.7,389.45 L504.45,382.2 Z" fill="#b8e5f8" stroke="#12a8e6" stroke-width="3.0"/>
<path d="M527.6,373.45 L534.85,380.7 L527.6,387.95 L520.35,380.7 Z" fill="#b8e5f8" stroke="#12a8e6" stroke-width="3.0"/>
<path d="M546.1,371.25 L553.35,378.5 L546.1,385.75 L538.85,378.5 Z" fill="#b8e5f8" stroke="#12a8e6" stroke-width="3.0"/>
<path d="M571.3,351.25 L578.55,358.5 L571.3,365.75 L564.05,358.5 Z" fill="#b8e5f8" stroke="#12a8e6" stroke-width="3.0"/>
<path d="M589.1,333.45 L596.35,340.7 L589.1,347.95 L581.85,340.7 Z" fill="#b8e5f8" stroke="#12a8e6" stroke-width="3.0"/>
<path d="M589.8,319.45 L597.05,326.7 L589.8,333.95 L582.55,326.7 Z" fill="#b8e5f8" stroke="#12a8e6" stroke-width="3.0"/>
<path d="M607.6,302.75 L614.85,310 L607.6,317.25 L600.35,310 Z" fill="#b8e5f8" stroke="#12a8e6" stroke-width="3.0"/>
<path d="M623.9,274.65 L631.15,281.9 L623.9,289.15 L616.65,281.9 Z" fill="#b8e5f8" stroke="#12a8e6" stroke-width="3.0"/>
<path d="M639.4,275.35 L646.65,282.6 L639.4,289.85 L632.15,282.6 Z" fill="#b8e5f8" stroke="#12a8e6" stroke-width="3.0"/>
<path d="M652,269.45 L659.25,276.7 L652,283.95 L644.75,276.7 Z" fill="#b8e5f8" stroke="#12a8e6" stroke-width="3.0"/>
<path d="M667.6,239.05 L674.85,246.3 L667.6,253.55 L660.35,246.3 Z" fill="#b8e5f8" stroke="#12a8e6" stroke-width="3.0"/>
<path d="M683.9,190.15 L691.15,197.4 L683.9,204.65 L676.65,197.4 Z" fill="#b8e5f8" stroke="#12a8e6" stroke-width="3.0"/>
<path d="M697.2,207.95 L704.45,215.2 L697.2,222.45 L689.95,215.2 Z" fill="#b8e5f8" stroke="#12a8e6" stroke-width="3.0"/>
<path d="M717.8,167.25 L725.05,174.5 L717.8,181.75 L710.55,174.5 Z" fill="#b8e5f8" stroke="#12a8e6" stroke-width="3.0"/>
<path d="M731.5,165.75 L738.75,173 L731.5,180.25 L724.25,173 Z" fill="#b8e5f8" stroke="#12a8e6" stroke-width="3.0"/>
<path d="M730.6,187.15 L737.85,194.4 L730.6,201.65 L723.35,194.4 Z" fill="#b8e5f8" stroke="#12a8e6" stroke-width="3.0"/>
<path d="M767.8,165.25 L775.05,172.5 L767.8,179.75 L760.55,172.5 Z" fill="#b8e5f8" stroke="#12a8e6" stroke-width="3.0"/>
<path d="M800.3,150.95 L807.55,158.2 L800.3,165.45 L793.05,158.2 Z" fill="#b8e5f8" stroke="#12a8e6" stroke-width="3.0"/>
<path d="M814.2,189.55 L821.45,196.8 L814.2,204.05 L806.95,196.8 Z" fill="#b8e5f8" stroke="#12a8e6" stroke-width="3.0"/>
<path d="M479.6,370 C484.24,370 514.22,370.23 519.4,370 C524.58,369.77 522.79,369.11 524,368 C525.21,366.89 527.91,362.47 529.8,360.5 C531.69,358.53 538.31,352.85 540.2,351.1 C542.09,349.35 544.71,346.42 546,345.5 C547.29,344.58 549.21,343.49 551.3,343.2 C553.39,342.91 560.88,343.02 563.9,343 C566.92,342.98 574.44,343.12 577.2,343 C579.97,342.88 585.76,342.93 587.6,342 C589.44,341.07 591.62,336.93 593,335 C594.38,333.07 597.95,327.31 599.4,325.5 C600.85,323.69 603.32,321.92 605.4,319.5 C607.48,317.08 614.87,307.73 617.2,304.8 C619.53,301.87 623.09,297.7 625.4,294.4 C627.71,291.1 634.24,280.64 637,276.5 C639.76,272.36 646.83,262.11 649.1,258.9 C651.38,255.69 654.77,251.57 656.5,249 C658.23,246.43 662.17,239.55 663.9,236.9 C665.63,234.25 669.49,229.03 671.3,226.3 C673.11,223.57 677.58,216.18 679.4,213.5 C681.22,210.82 685.25,205.93 686.9,203.3 C688.54,200.68 691.87,193.67 693.5,191 C695.13,188.33 699.09,182.98 700.9,180.4 C702.71,177.82 707.02,171.56 709,168.9 C710.98,166.24 715.99,160.2 717.9,157.6 C719.81,155 723.4,149.08 725.4,146.6 C727.39,144.12 732.99,138.63 735,136.3 C737.01,133.97 740.27,128.69 742.6,126.6 C744.93,124.51 752.11,120.16 755,118.4 C757.89,116.64 764.34,112.55 767.4,111.5 C770.46,110.45 777.99,109.65 781.2,109.4 C784.41,109.16 791.69,109.16 794.9,109.4 C798.11,109.65 805.36,111.08 808.7,111.5 C812.04,111.92 821.77,112.83 823.5,113" fill="none" stroke="#12a8e6" stroke-width="4.0" stroke-dasharray="11 16.4" stroke-linecap="round" stroke-linejoin="round"/>
<path d="M479.6,370.3 C484.31,370.3 514.59,370.42 520,370.3 C525.41,370.18 524.6,369.56 526,369.3 C527.4,369.04 530.52,368.71 532,368.1 C533.48,367.49 537.23,365.13 538.7,364.1 C540.17,363.07 543.21,360.43 544.6,359.3 C545.99,358.17 549.31,355.61 550.6,354.4 C551.89,353.19 554.6,350.05 555.7,348.9 C556.8,347.75 558.36,345.17 560,344.5 C561.64,343.83 566.58,343.64 569.8,343.2 C573.02,342.76 584.31,341.68 587.6,340.7 C590.89,339.72 596.1,336.31 598,334.8 C599.9,333.3 602.61,329.22 603.9,327.8 C605.19,326.38 607.89,323.81 609.1,322.6 C610.31,321.39 613.1,318.79 614.3,317.4 C615.5,316.01 618.2,312.17 619.4,310.7 C620.6,309.23 623.47,306.18 624.6,304.8 C625.73,303.42 627.97,300.28 629.1,298.9 C630.23,297.52 632.33,295.56 634.3,293 C636.27,290.44 643.24,280.63 646,277 C648.76,273.37 656.09,264.44 658,261.9 C659.91,259.36 661.12,257.17 662.4,255.2 C663.68,253.23 667.45,247.25 669,245 C670.55,242.75 674.39,237.73 675.7,235.9 C677.01,234.07 679.16,230.85 680.2,229.3 C681.24,227.75 683.34,224.5 684.6,222.6 C685.86,220.7 689.53,215.25 691,213 C692.47,210.75 695.95,205.2 697.2,203.3 C698.45,201.4 700.66,198.25 701.7,196.7 C702.74,195.15 705.16,191.53 706.1,190 C707.04,188.47 708.59,185.7 709.8,183.6 C711.01,181.5 715,174.31 716.5,172 C718,169.69 721.5,165.48 722.7,163.8 C723.9,162.12 725.83,159.13 726.8,157.6 C727.77,156.07 730.04,152.31 731,150.7 C731.96,149.09 734.04,145.4 735,143.8 C735.96,142.2 738.23,138.52 739.2,137 C740.17,135.48 742.27,132.32 743.3,130.8 C744.33,129.28 746.95,125.61 748,124 C749.05,122.39 751.8,117.82 752.3,117" fill="none" stroke="#12a8e6" stroke-width="4.0" stroke-dasharray="0 7.7" stroke-linecap="round" stroke-linejoin="round"/>
<path d="M119.3,732.75 L126.55,740 L119.3,747.25 L112.05,740 Z" fill="#b6e5c9" stroke="#05ad4f" stroke-width="3.0"/>
<path d="M120.7,715.35 L127.95,722.6 L120.7,729.85 L113.45,722.6 Z" fill="#b6e5c9" stroke="#05ad4f" stroke-width="3.0"/>
<path d="M132,679.95 L139.25,687.2 L132,694.45 L124.75,687.2 Z" fill="#b6e5c9" stroke="#05ad4f" stroke-width="3.0"/>
<path d="M149.6,682.95 L156.85,690.2 L149.6,697.45 L142.35,690.2 Z" fill="#b6e5c9" stroke="#05ad4f" stroke-width="3.0"/>
<path d="M165.1,679.95 L172.35,687.2 L165.1,694.45 L157.85,687.2 Z" fill="#b6e5c9" stroke="#05ad4f" stroke-width="3.0"/>
<path d="M183.4,674.35 L190.65,681.6 L183.4,688.85 L176.15,681.6 Z" fill="#b6e5c9" stroke="#05ad4f" stroke-width="3.0"/>
<path d="M207.4,669.15 L214.65,676.4 L207.4,683.65 L200.15,676.4 Z" fill="#b6e5c9" stroke="#05ad4f" stroke-width="3.0"/>
<path d="M224.5,655.55 L231.75,662.8 L224.5,670.05 L217.25,662.8 Z" fill="#b6e5c9" stroke="#05ad4f" stroke-width="3.0"/>
<path d="M224.5,634.15 L231.75,641.4 L224.5,648.65 L217.25,641.4 Z" fill="#b6e5c9" stroke="#05ad4f" stroke-width="3.0"/>
<path d="M242.1,630.35 L249.35,637.6 L242.1,644.85 L234.85,637.6 Z" fill="#b6e5c9" stroke="#05ad4f" stroke-width="3.0"/>
<path d="M257,594.25 L264.25,601.5 L257,608.75 L249.75,601.5 Z" fill="#b6e5c9" stroke="#05ad4f" stroke-width="3.0"/>
<path d="M273,599.75 L280.25,607 L273,614.25 L265.75,607 Z" fill="#b6e5c9" stroke="#05ad4f" stroke-width="3.0"/>
<path d="M283.9,589.15 L291.15,596.4 L283.9,603.65 L276.65,596.4 Z" fill="#b6e5c9" stroke="#05ad4f" stroke-width="3.0"/>
<path d="M299,548.75 L306.25,556 L299,563.25 L291.75,556 Z" fill="#b6e5c9" stroke="#05ad4f" stroke-width="3.0"/>
<path d="M314,487.25 L321.25,494.5 L314,501.75 L306.75,494.5 Z" fill="#b6e5c9" stroke="#05ad4f" stroke-width="3.0"/>
<path d="M327.8,510.55 L335.05,517.8 L327.8,525.05 L320.55,517.8 Z" fill="#b6e5c9" stroke="#05ad4f" stroke-width="3.0"/>
<path d="M346.8,466.75 L354.05,474 L346.8,481.25 L339.55,474 Z" fill="#b6e5c9" stroke="#05ad4f" stroke-width="3.0"/>
<path d="M360.6,470.95 L367.85,478.2 L360.6,485.45 L353.35,478.2 Z" fill="#b6e5c9" stroke="#05ad4f" stroke-width="3.0"/>
<path d="M360.5,438.25 L367.75,445.5 L360.5,452.75 L353.25,445.5 Z" fill="#b6e5c9" stroke="#05ad4f" stroke-width="3.0"/>
<path d="M395.5,446.55 L402.75,453.8 L395.5,461.05 L388.25,453.8 Z" fill="#b6e5c9" stroke="#05ad4f" stroke-width="3.0"/>
<path d="M426.5,426.25 L433.75,433.5 L426.5,440.75 L419.25,433.5 Z" fill="#b6e5c9" stroke="#05ad4f" stroke-width="3.0"/>
<path d="M440.1,472.55 L447.35,479.8 L440.1,487.05 L432.85,479.8 Z" fill="#b6e5c9" stroke="#05ad4f" stroke-width="3.0"/>
<path d="M119.3,674.5 C121.72,674.59 134.77,675.18 140,675.3 C145.23,675.42 159.67,675.71 164.1,675.5 C168.53,675.29 174.44,673.79 178,673.5 C181.56,673.21 191.45,673.41 194.6,673 C197.75,672.59 203.09,670.93 205,670 C206.91,669.07 209.65,666.75 211,665 C212.35,663.25 215.32,656.87 216.6,655 C217.88,653.13 220.67,650.98 222,649 C223.33,647.02 226.48,640.62 228,638 C229.52,635.38 233.37,629.22 235,626.5 C236.63,623.78 240.25,617.56 242,614.7 C243.75,611.84 248.33,605 250,602 C251.67,599 254.08,592.98 256.3,589 C258.52,585.02 266.04,572.71 269,567.9 C271.96,563.09 279.34,551.88 281.7,547.8 C284.06,543.72 287.34,535.99 289.2,532.9 C291.06,529.81 295.76,524.38 297.6,521.3 C299.44,518.22 303.14,509.84 305,506.5 C306.86,503.16 311.52,495.79 313.5,492.7 C315.48,489.61 320.03,483.21 322,480 C323.97,476.79 328.67,468.41 330.4,465.2 C332.13,461.99 335.19,454.97 336.8,452.5 C338.41,450.03 342.23,445.35 344.2,444 C346.17,442.65 350.87,441.51 353.7,440.9 C356.53,440.29 365.29,439.17 368.5,438.8 C371.71,438.43 377.75,437.83 381.2,437.7 C384.65,437.57 394.65,437.57 398.1,437.7 C401.55,437.83 407.58,438.56 410.8,438.8 C414.02,439.05 422.48,439.44 425.7,439.8 C428.92,440.16 436.03,441.53 438.4,441.9 C440.77,442.27 445.11,442.87 446,443" fill="none" stroke="#05ad4f" stroke-width="4.0" stroke-dasharray="11 16.4" stroke-linecap="round" stroke-linejoin="round"/>
<path d="M119.3,674.5 C121.72,674.59 134.77,675.18 140,675.3 C145.23,675.42 159.67,675.71 164.1,675.5 C168.53,675.29 174.44,673.79 178,673.5 C181.56,673.21 191.45,673.41 194.6,673 C197.75,672.59 203.09,670.93 205,670 C206.91,669.07 209.65,666.75 211,665 C212.35,663.25 215.32,656.87 216.6,655 C217.88,653.13 220.67,650.98 222,649 C223.33,647.02 226.48,640.62 228,638 C229.52,635.38 233.37,629.22 235,626.5 C236.63,623.78 240.25,617.56 242,614.7 C243.75,611.84 248.33,605 250,602 C251.67,599 254.08,592.98 256.3,589 C258.52,585.02 266.04,572.71 269,567.9 C271.96,563.09 279.34,551.88 281.7,547.8 C284.06,543.72 287.34,535.99 289.2,532.9 C291.06,529.81 295.76,524.38 297.6,521.3 C299.44,518.22 303.14,509.84 305,506.5 C306.86,503.16 311.52,495.79 313.5,492.7 C315.48,489.61 320.03,483.21 322,480 C323.97,476.79 328.67,468.41 330.4,465.2 C332.13,461.99 335.19,454.97 336.8,452.5 C338.41,450.03 342.23,445.35 344.2,444 C346.17,442.65 350.87,441.51 353.7,440.9 C356.53,440.29 365.29,439.17 368.5,438.8 C371.71,438.43 377.75,437.83 381.2,437.7 C384.65,437.57 394.65,437.57 398.1,437.7 C401.55,437.83 407.58,438.56 410.8,438.8 C414.02,439.05 422.48,439.44 425.7,439.8 C428.92,440.16 436.03,441.53 438.4,441.9 C440.77,442.27 445.11,442.87 446,443" fill="none" stroke="#05ad4f" stroke-width="4.0" stroke-dasharray="0 7.7" stroke-linecap="round" stroke-linejoin="round"/>
<path d="M479.8,732.75 L487.05,740 L479.8,747.25 L472.55,740 Z" fill="#d4c1e3" stroke="#7030a0" stroke-width="3.0"/>
<path d="M481,554.05 L488.25,561.3 L481,568.55 L473.75,561.3 Z" fill="#d4c1e3" stroke="#7030a0" stroke-width="3.0"/>
<path d="M493.1,458.25 L500.35,465.5 L493.1,472.75 L485.85,465.5 Z" fill="#d4c1e3" stroke="#7030a0" stroke-width="3.0"/>
<path d="M511.9,478.85 L519.15,486.1 L511.9,493.35 L504.65,486.1 Z" fill="#d4c1e3" stroke="#7030a0" stroke-width="3.0"/>
<path d="M527.6,475.35 L534.85,482.6 L527.6,489.85 L520.35,482.6 Z" fill="#d4c1e3" stroke="#7030a0" stroke-width="3.0"/>
<path d="M545.9,476.25 L553.15,483.5 L545.9,490.75 L538.65,483.5 Z" fill="#d4c1e3" stroke="#7030a0" stroke-width="3.0"/>
<path d="M571.1,712.85 L578.35,720.1 L571.1,727.35 L563.85,720.1 Z" fill="#d4c1e3" stroke="#7030a0" stroke-width="3.0"/>
<path d="M588.8,706.65 L596.05,713.9 L588.8,721.15 L581.55,713.9 Z" fill="#d4c1e3" stroke="#7030a0" stroke-width="3.0"/>
<path d="M589.2,727.85 L596.45,735.1 L589.2,742.35 L581.95,735.1 Z" fill="#d4c1e3" stroke="#7030a0" stroke-width="3.0"/>
<path d="M607.5,718.95 L614.75,726.2 L607.5,733.45 L600.25,726.2 Z" fill="#d4c1e3" stroke="#7030a0" stroke-width="3.0"/>
<path d="M623.8,711.75 L631.05,719 L623.8,726.25 L616.55,719 Z" fill="#d4c1e3" stroke="#7030a0" stroke-width="3.0"/>
<path d="M639.9,707.45 L647.15,714.7 L639.9,721.95 L632.65,714.7 Z" fill="#d4c1e3" stroke="#7030a0" stroke-width="3.0"/>
<path d="M651.4,717.15 L658.65,724.4 L651.4,731.65 L644.15,724.4 Z" fill="#d4c1e3" stroke="#7030a0" stroke-width="3.0"/>
<path d="M667,707.45 L674.25,714.7 L667,721.95 L659.75,714.7 Z" fill="#d4c1e3" stroke="#7030a0" stroke-width="3.0"/>
<path d="M683.4,703.35 L690.65,710.6 L683.4,717.85 L676.15,710.6 Z" fill="#d4c1e3" stroke="#7030a0" stroke-width="3.0"/>
<path d="M697.5,720.35 L704.75,727.6 L697.5,734.85 L690.25,727.6 Z" fill="#d4c1e3" stroke="#7030a0" stroke-width="3.0"/>
<path d="M717.7,710.95 L724.95,718.2 L717.7,725.45 L710.45,718.2 Z" fill="#d4c1e3" stroke="#7030a0" stroke-width="3.0"/>
<path d="M731.5,708.25 L738.75,715.5 L731.5,722.75 L724.25,715.5 Z" fill="#d4c1e3" stroke="#7030a0" stroke-width="3.0"/>
<path d="M732,711.75 L739.25,719 L732,726.25 L724.75,719 Z" fill="#d4c1e3" stroke="#7030a0" stroke-width="3.0"/>
<path d="M768.6,725.45 L775.85,732.7 L768.6,739.95 L761.35,732.7 Z" fill="#d4c1e3" stroke="#7030a0" stroke-width="3.0"/>
<path d="M799.7,724.35 L806.95,731.6 L799.7,738.85 L792.45,731.6 Z" fill="#d4c1e3" stroke="#7030a0" stroke-width="3.0"/>
<path d="M813.9,725.45 L821.15,732.7 L813.9,739.95 L806.65,732.7 Z" fill="#d4c1e3" stroke="#7030a0" stroke-width="3.0"/>
<path d="M480.3,740.2 L480.3,502.5 L516,502.5 L517.5,510 L519.5,535 L522,560 L525.5,590 L528.5,617 L532.4,645 L535.8,665.9 L541,677.9 L544.4,690.7 L548.7,698.5 L589,698.5 L595,706 L603,715 L612,722 L620,728 L630,731.5 L643,734.5 L655,736.3 L670,738 L690,739.2 L720,739.8 L823,740" fill="none" stroke="#7030a0" stroke-width="4.0" stroke-dasharray="11 16.4" stroke-linecap="round" stroke-linejoin="round"/>
<path d="M480.3,740.2 L480.3,502.5 L526,502.5 L529,509 L530.5,520 L531.5,530.5 L533.3,547.7 L535.8,571.7 L538.7,595.6 L541,618.8 L542.7,629.9 L545.3,645.3 L548.7,659 L550.4,671 L554.7,688.2 L557.2,693.3 L560.7,697.6 L566,698.5 L588.1,698.5 L592.7,702.7 L597.8,709.5 L602.9,715.4 L610,722 L619.8,728.5 L630,731.5 L643,734.5 L655,736.3 L670,738 L690,739.2 L720,739.8 L823,740" fill="none" stroke="#7030a0" stroke-width="4.0" stroke-dasharray="0 7.7" stroke-linecap="round" stroke-linejoin="round"/>
<path d="M118.3,1281.55 L125.55,1288.8 L118.3,1296.05 L111.05,1288.8 Z" fill="#fdb4b4" stroke="#f80000" stroke-width="3.0"/>
<path d="M121.5,1279.75 L128.75,1287 L121.5,1294.25 L114.25,1287 Z" fill="#fdb4b4" stroke="#f80000" stroke-width="3.0"/>
<path d="M124.5,1277.95 L131.75,1285.2 L124.5,1292.45 L117.25,1285.2 Z" fill="#fdb4b4" stroke="#f80000" stroke-width="3.0"/>
<path d="M127.5,1276.35 L134.75,1283.6 L127.5,1290.85 L120.25,1283.6 Z" fill="#fdb4b4" stroke="#f80000" stroke-width="3.0"/>
<path d="M130.5,1275.05 L137.75,1282.3 L130.5,1289.55 L123.25,1282.3 Z" fill="#fdb4b4" stroke="#f80000" stroke-width="3.0"/>
<path d="M134,1274.05 L141.25,1281.3 L134,1288.55 L126.75,1281.3 Z" fill="#fdb4b4" stroke="#f80000" stroke-width="3.0"/>
<path d="M137.2,1273.35 L144.45,1280.6 L137.2,1287.85 L129.95,1280.6 Z" fill="#fdb4b4" stroke="#f80000" stroke-width="3.0"/>
<path d="M147.4,1272.35 L154.65,1279.6 L147.4,1286.85 L140.15,1279.6 Z" fill="#fdb4b4" stroke="#f80000" stroke-width="3.0"/>
<path d="M157.4,1268.15 L164.65,1275.4 L157.4,1282.65 L150.15,1275.4 Z" fill="#fdb4b4" stroke="#f80000" stroke-width="3.0"/>
<path d="M177.2,1257.15 L184.45,1264.4 L177.2,1271.65 L169.95,1264.4 Z" fill="#fdb4b4" stroke="#f80000" stroke-width="3.0"/>
<path d="M190.8,1249.55 L198.05,1256.8 L190.8,1264.05 L183.55,1256.8 Z" fill="#fdb4b4" stroke="#f80000" stroke-width="3.0"/>
<path d="M206,1239.85 L213.25,1247.1 L206,1254.35 L198.75,1247.1 Z" fill="#fdb4b4" stroke="#f80000" stroke-width="3.0"/>
<path d="M224,1226.55 L231.25,1233.8 L224,1241.05 L216.75,1233.8 Z" fill="#fdb4b4" stroke="#f80000" stroke-width="3.0"/>
<path d="M240.2,1211.15 L247.45,1218.4 L240.2,1225.65 L232.95,1218.4 Z" fill="#fdb4b4" stroke="#f80000" stroke-width="3.0"/>
<path d="M252.8,1198.35 L260.05,1205.6 L252.8,1212.85 L245.55,1205.6 Z" fill="#fdb4b4" stroke="#f80000" stroke-width="3.0"/>
<path d="M272.5,1177.45 L279.75,1184.7 L272.5,1191.95 L265.25,1184.7 Z" fill="#fdb4b4" stroke="#f80000" stroke-width="3.0"/>
<path d="M301.2,1127.05 L308.45,1134.3 L301.2,1141.55 L293.95,1134.3 Z" fill="#fdb4b4" stroke="#f80000" stroke-width="3.0"/>
<path d="M306.2,1113.55 L313.45,1120.8 L306.2,1128.05 L298.95,1120.8 Z" fill="#fdb4b4" stroke="#f80000" stroke-width="3.0"/>
<path d="M330.5,1085.55 L337.75,1092.8 L330.5,1100.05 L323.25,1092.8 Z" fill="#fdb4b4" stroke="#f80000" stroke-width="3.0"/>
<path d="M360.6,1053.05 L367.85,1060.3 L360.6,1067.55 L353.35,1060.3 Z" fill="#fdb4b4" stroke="#f80000" stroke-width="3.0"/>
<path d="M380,1040.75 L387.25,1048 L380,1055.25 L372.75,1048 Z" fill="#fdb4b4" stroke="#f80000" stroke-width="3.0"/>
<path d="M413,1011.05 L420.25,1018.3 L413,1025.55 L405.75,1018.3 Z" fill="#fdb4b4" stroke="#f80000" stroke-width="3.0"/>
<path d="M119,1288 C119.82,1287.3 124.37,1283.4 126,1282 C127.63,1280.6 131.55,1277.13 133,1276 C134.45,1274.87 136.72,1273.47 138.4,1272.3 C140.08,1271.13 144.88,1267.58 147.4,1266 C149.92,1264.42 157.06,1260.43 160,1258.8 C162.94,1257.17 169.87,1253.79 172.6,1252 C175.33,1250.21 180.88,1245.33 183.4,1243.5 C185.92,1241.67 191.9,1238.27 194.2,1236.3 C196.5,1234.33 200.8,1228.58 203.1,1226.6 C205.4,1224.62 211.8,1221.4 213.9,1219.3 C216,1217.2 218.79,1211.12 221.1,1208.6 C223.41,1206.08 230.97,1200.02 233.7,1197.7 C236.43,1195.38 241.77,1190.8 244.5,1188.7 C247.23,1186.6 254.73,1181.88 257.1,1179.7 C259.47,1177.52 262.69,1172.02 264.8,1170 C266.91,1167.98 272.76,1164.51 275.2,1162.4 C277.64,1160.29 283.25,1153.95 285.7,1151.9 C288.15,1149.85 293.64,1147.12 296.2,1144.8 C298.75,1142.48 305.16,1134.31 307.6,1132 C310.04,1129.69 314.83,1126.79 317.1,1125 C319.38,1123.21 324.65,1118.61 327.1,1116.7 C329.55,1114.79 335.62,1110.57 338.1,1108.6 C340.59,1106.63 345.87,1101.71 348.4,1099.8 C350.93,1097.89 357.21,1094.04 359.8,1092.2 C362.39,1090.36 367.93,1085.77 370.6,1084 C373.27,1082.23 379.88,1078.7 382.7,1077 C385.52,1075.3 391.91,1070.88 394.8,1069.4 C397.69,1067.92 404.54,1065.42 407.5,1064.3 C410.46,1063.18 417.17,1060.69 420.2,1059.8 C423.23,1058.91 430.49,1057.32 433.5,1056.7 C436.51,1056.08 444.54,1054.76 446,1054.5" fill="none" stroke="#f80000" stroke-width="4.0" stroke-dasharray="11 16.4" stroke-linecap="round" stroke-linejoin="round"/>
<path d="M119,1288 C119.82,1287.18 124.37,1282.63 126,1281 C127.63,1279.37 131.37,1275.4 133,1274 C134.63,1272.6 138.43,1270.04 140,1269 C141.57,1267.96 144.9,1266.08 146.5,1265.1 C148.1,1264.12 151.39,1262.28 153.7,1260.6 C156.01,1258.92 164.09,1252.38 166.3,1250.7 C168.51,1249.02 171.23,1247.25 172.6,1246.2 C173.97,1245.15 176.63,1242.86 178,1241.7 C179.37,1240.55 182.94,1237.45 184.3,1236.3 C185.67,1235.14 188.24,1232.88 189.7,1231.8 C191.16,1230.71 195.24,1228.25 196.8,1227 C198.36,1225.75 201.21,1222.84 203.1,1221.1 C204.99,1219.36 210.9,1213.64 213,1212.1 C215.1,1210.56 218.89,1209.58 221.1,1207.9 C223.31,1206.22 229.8,1199.41 231.9,1197.7 C234,1195.99 237,1194.67 239.1,1193.2 C241.2,1191.73 247.69,1186.78 249.9,1185.1 C252.11,1183.42 256.36,1180.15 258,1178.8 C259.64,1177.45 261.1,1175.75 264,1173.5 C266.9,1171.25 280.03,1161.68 282.9,1159.5 C285.77,1157.32 287.21,1155.91 288.6,1154.8 C289.99,1153.69 293.31,1151.14 294.8,1150 C296.29,1148.86 299.91,1146.17 301.4,1145 C302.89,1143.83 306.15,1141.11 307.6,1140 C309.05,1138.89 312.35,1136.55 313.8,1135.5 C315.25,1134.45 318.55,1132.11 320,1131 C321.45,1129.89 324.75,1127.17 326.2,1126 C327.65,1124.83 330.95,1122.14 332.4,1121 C333.85,1119.86 337.18,1117.26 338.6,1116.2 C340.02,1115.14 343.15,1113 344.6,1111.9 C346.05,1110.8 349.52,1107.91 351,1106.8 C352.48,1105.69 355.87,1103.47 357.3,1102.4 C358.74,1101.33 361.87,1098.71 363.3,1097.6 C364.74,1096.49 368.12,1094 369.6,1092.9 C371.08,1091.8 374.54,1089.32 376,1088.2 C377.46,1087.08 380.65,1084.43 382.1,1083.3 C383.55,1082.17 386.92,1079.61 388.4,1078.5 C389.88,1077.39 394.05,1074.35 394.8,1073.8" fill="none" stroke="#f80000" stroke-width="4.0" stroke-dasharray="0 7.7" stroke-linecap="round" stroke-linejoin="round"/>
<path d="M479.3,1280.35 L486.55,1287.6 L479.3,1294.85 L472.05,1287.6 Z" fill="#b8e5f8" stroke="#12a8e6" stroke-width="3.0"/>
<path d="M484.5,1270.75 L491.75,1278 L484.5,1285.25 L477.25,1278 Z" fill="#b8e5f8" stroke="#12a8e6" stroke-width="3.0"/>
<path d="M487.3,1268.55 L494.55,1275.8 L487.3,1283.05 L480.05,1275.8 Z" fill="#b8e5f8" stroke="#12a8e6" stroke-width="3.0"/>
<path d="M490.2,1266.45 L497.45,1273.7 L490.2,1280.95 L482.95,1273.7 Z" fill="#b8e5f8" stroke="#12a8e6" stroke-width="3.0"/>
<path d="M493.2,1264.35 L500.45,1271.6 L493.2,1278.85 L485.95,1271.6 Z" fill="#b8e5f8" stroke="#12a8e6" stroke-width="3.0"/>
<path d="M496,1262.65 L503.25,1269.9 L496,1277.15 L488.75,1269.9 Z" fill="#b8e5f8" stroke="#12a8e6" stroke-width="3.0"/>
<path d="M498.5,1261.35 L505.75,1268.6 L498.5,1275.85 L491.25,1268.6 Z" fill="#b8e5f8" stroke="#12a8e6" stroke-width="3.0"/>
<path d="M510.1,1259.65 L517.35,1266.9 L510.1,1274.15 L502.85,1266.9 Z" fill="#b8e5f8" stroke="#12a8e6" stroke-width="3.0"/>
<path d="M519,1253.05 L526.25,1260.3 L519,1267.55 L511.75,1260.3 Z" fill="#b8e5f8" stroke="#12a8e6" stroke-width="3.0"/>
<path d="M539.8,1234.25 L547.05,1241.5 L539.8,1248.75 L532.55,1241.5 Z" fill="#b8e5f8" stroke="#12a8e6" stroke-width="3.0"/>
<path d="M554.4,1223.35 L561.65,1230.6 L554.4,1237.85 L547.15,1230.6 Z" fill="#b8e5f8" stroke="#12a8e6" stroke-width="3.0"/>
<path d="M569.6,1210.15 L576.85,1217.4 L569.6,1224.65 L562.35,1217.4 Z" fill="#b8e5f8" stroke="#12a8e6" stroke-width="3.0"/>
<path d="M588.6,1194.85 L595.85,1202.1 L588.6,1209.35 L581.35,1202.1 Z" fill="#b8e5f8" stroke="#12a8e6" stroke-width="3.0"/>
<path d="M605.3,1176.25 L612.55,1183.5 L605.3,1190.75 L598.05,1183.5 Z" fill="#b8e5f8" stroke="#12a8e6" stroke-width="3.0"/>
<path d="M619.3,1164.35 L626.55,1171.6 L619.3,1178.85 L612.05,1171.6 Z" fill="#b8e5f8" stroke="#12a8e6" stroke-width="3.0"/>
<path d="M639.2,1147.35 L646.45,1154.6 L639.2,1161.85 L631.95,1154.6 Z" fill="#b8e5f8" stroke="#12a8e6" stroke-width="3.0"/>
<path d="M669,1102.55 L676.25,1109.8 L669,1117.05 L661.75,1109.8 Z" fill="#b8e5f8" stroke="#12a8e6" stroke-width="3.0"/>
<path d="M671.5,1104.25 L678.75,1111.5 L671.5,1118.75 L664.25,1111.5 Z" fill="#b8e5f8" stroke="#12a8e6" stroke-width="3.0"/>
<path d="M699.2,1078.45 L706.45,1085.7 L699.2,1092.95 L691.95,1085.7 Z" fill="#b8e5f8" stroke="#12a8e6" stroke-width="3.0"/>
<path d="M730.2,1054.55 L737.45,1061.8 L730.2,1069.05 L722.95,1061.8 Z" fill="#b8e5f8" stroke="#12a8e6" stroke-width="3.0"/>
<path d="M750,1046.55 L757.25,1053.8 L750,1061.05 L742.75,1053.8 Z" fill="#b8e5f8" stroke="#12a8e6" stroke-width="3.0"/>
<path d="M784.4,1024.15 L791.65,1031.4 L784.4,1038.65 L777.15,1031.4 Z" fill="#b8e5f8" stroke="#12a8e6" stroke-width="3.0"/>
<path d="M479.6,1288 C479.69,1284.97 479.65,1265.21 480.4,1262 C481.15,1258.79 484.63,1260.85 486,1260.5 C487.37,1260.15 490.82,1259.76 492.1,1259 C493.38,1258.24 495.26,1255.87 497,1254 C498.74,1252.13 504.78,1245.57 507,1243 C509.22,1240.43 513.79,1234.45 516,1232 C518.21,1229.55 523.92,1223.69 525.9,1222 C527.88,1220.31 530.33,1218.22 533,1217.5 C535.67,1216.78 545.42,1216.67 548.8,1215.8 C552.18,1214.92 559.53,1211.61 562,1210 C564.47,1208.39 568.13,1203.75 570,1202 C571.87,1200.25 575.65,1197.08 578,1195 C580.35,1192.92 587.42,1186.65 590.1,1184.2 C592.78,1181.75 598.53,1176.31 601,1174 C603.47,1171.69 609.2,1166.5 611.3,1164.4 C613.4,1162.3 616.77,1158.33 619,1156 C621.23,1153.67 627.03,1148.06 630.4,1144.4 C633.77,1140.74 643.35,1129.42 647.9,1124.6 C652.45,1119.78 665.07,1107.81 669.4,1103.1 C673.73,1098.39 680.93,1088.64 685,1084.2 C689.07,1079.76 699.69,1069.38 704.3,1065 C708.91,1060.62 719.71,1050.96 724.5,1046.7 C729.29,1042.44 740.23,1032.38 745.4,1028.5 C750.57,1024.62 764.76,1015.91 768.8,1013.4 C772.84,1010.89 777.19,1008.37 780,1007 C782.81,1005.63 789.98,1002.75 792.9,1001.7 C795.82,1000.65 802.07,998.69 805,998 C807.93,997.31 815.9,996.13 818,995.8 C820.1,995.47 822.42,995.27 823,995.2" fill="none" stroke="#12a8e6" stroke-width="4.0" stroke-dasharray="11 16.4" stroke-linecap="round" stroke-linejoin="round"/>
<path d="M479.6,1288 C479.69,1284.97 479.54,1265.33 480.4,1262 C481.26,1258.67 485.65,1260.08 487,1259.5 C488.35,1258.92 490.77,1257.71 492,1257 C493.23,1256.29 496.1,1254.68 497.5,1253.4 C498.9,1252.12 502.43,1248.31 504,1246 C505.57,1243.69 509.55,1235.77 511,1233.6 C512.45,1231.43 514.88,1228.99 516.4,1227.4 C517.92,1225.81 522.53,1221.15 524,1220 C525.47,1218.85 527.89,1217.86 529,1217.5 C530.11,1217.14 531.28,1217.08 533.5,1216.9 C535.72,1216.73 545.26,1216.34 548,1216 C550.74,1215.66 555.34,1214.88 557,1214 C558.66,1213.12 560.96,1209.71 562.2,1208.5 C563.44,1207.29 566.34,1204.86 567.6,1203.6 C568.86,1202.34 571.63,1198.98 573,1197.7 C574.37,1196.42 577.32,1194.26 579.3,1192.6 C581.28,1190.94 587.48,1185.67 590,1183.5 C592.52,1181.33 598.57,1176.04 600.9,1174 C603.23,1171.96 607.85,1168.23 610,1166 C612.15,1163.77 616.97,1157.47 619.3,1154.9 C621.63,1152.33 627.42,1146.52 630,1144 C632.58,1141.48 638.03,1136.38 641.4,1133.3 C644.77,1130.22 654.82,1121.33 658.9,1117.6 C662.98,1113.87 673.68,1103.81 676.4,1101.3 C679.12,1098.79 680.92,1097.32 682.2,1096.1 C683.48,1094.88 684.75,1093.31 687.4,1090.8 C690.05,1088.29 702.18,1077.11 704.9,1074.6 C707.62,1072.09 709.35,1070.52 710.7,1069.3 C712.05,1068.08 715.1,1065.48 716.5,1064.1 C717.9,1062.72 720.69,1059.33 722.7,1057.5 C724.71,1055.67 731.78,1050.06 733.7,1048.4 C735.62,1046.74 737.84,1044.54 739.2,1043.3 C740.57,1042.06 744.03,1039.08 745.4,1037.8 C746.76,1036.52 749.62,1033.5 750.9,1032.3 C752.18,1031.1 755.03,1028.7 756.4,1027.5 C757.76,1026.3 761.01,1023.46 762.6,1022 C764.19,1020.54 767.99,1016.94 770,1015 C772.01,1013.06 777.47,1006.92 779.8,1005.4 C782.13,1003.88 787.06,1002.86 790,1002 C792.94,1001.14 801.15,998.78 805,998 C808.85,997.22 820.9,995.62 823,995.3" fill="none" stroke="#12a8e6" stroke-width="4.0" stroke-dasharray="0 7.7" stroke-linecap="round" stroke-linejoin="round"/>
<path d="M119.3,1623.55 L126.55,1630.8 L119.3,1638.05 L112.05,1630.8 Z" fill="#b6e5c9" stroke="#05ad4f" stroke-width="3.0"/>
<path d="M124.3,1607.05 L131.55,1614.3 L124.3,1621.55 L117.05,1614.3 Z" fill="#b6e5c9" stroke="#05ad4f" stroke-width="3.0"/>
<path d="M125.2,1595.25 L132.45,1602.5 L125.2,1609.75 L117.95,1602.5 Z" fill="#b6e5c9" stroke="#05ad4f" stroke-width="3.0"/>
<path d="M128.6,1593.95 L135.85,1601.2 L128.6,1608.45 L121.35,1601.2 Z" fill="#b6e5c9" stroke="#05ad4f" stroke-width="3.0"/>
<path d="M132,1592.95 L139.25,1600.2 L132,1607.45 L124.75,1600.2 Z" fill="#b6e5c9" stroke="#05ad4f" stroke-width="3.0"/>
<path d="M135.4,1592.05 L142.65,1599.3 L135.4,1606.55 L128.15,1599.3 Z" fill="#b6e5c9" stroke="#05ad4f" stroke-width="3.0"/>
<path d="M138.6,1591.35 L145.85,1598.6 L138.6,1605.85 L131.35,1598.6 Z" fill="#b6e5c9" stroke="#05ad4f" stroke-width="3.0"/>
<path d="M148.2,1592.15 L155.45,1599.4 L148.2,1606.65 L140.95,1599.4 Z" fill="#b6e5c9" stroke="#05ad4f" stroke-width="3.0"/>
<path d="M158.2,1586.05 L165.45,1593.3 L158.2,1600.55 L150.95,1593.3 Z" fill="#b6e5c9" stroke="#05ad4f" stroke-width="3.0"/>
<path d="M178,1575.65 L185.25,1582.9 L178,1590.15 L170.75,1582.9 Z" fill="#b6e5c9" stroke="#05ad4f" stroke-width="3.0"/>
<path d="M191.6,1562.35 L198.85,1569.6 L191.6,1576.85 L184.35,1569.6 Z" fill="#b6e5c9" stroke="#05ad4f" stroke-width="3.0"/>
<path d="M206.4,1554.15 L213.65,1561.4 L206.4,1568.65 L199.15,1561.4 Z" fill="#b6e5c9" stroke="#05ad4f" stroke-width="3.0"/>
<path d="M224,1535.75 L231.25,1543 L224,1550.25 L216.75,1543 Z" fill="#b6e5c9" stroke="#05ad4f" stroke-width="3.0"/>
<path d="M240.2,1514.95 L247.45,1522.2 L240.2,1529.45 L232.95,1522.2 Z" fill="#b6e5c9" stroke="#05ad4f" stroke-width="3.0"/>
<path d="M253.4,1504.85 L260.65,1512.1 L253.4,1519.35 L246.15,1512.1 Z" fill="#b6e5c9" stroke="#05ad4f" stroke-width="3.0"/>
<path d="M272.8,1481.75 L280.05,1489 L272.8,1496.25 L265.55,1489 Z" fill="#b6e5c9" stroke="#05ad4f" stroke-width="3.0"/>
<path d="M300.6,1429.95 L307.85,1437.2 L300.6,1444.45 L293.35,1437.2 Z" fill="#b6e5c9" stroke="#05ad4f" stroke-width="3.0"/>
<path d="M306.2,1423.25 L313.45,1430.5 L306.2,1437.75 L298.95,1430.5 Z" fill="#b6e5c9" stroke="#05ad4f" stroke-width="3.0"/>
<path d="M330.4,1394.75 L337.65,1402 L330.4,1409.25 L323.15,1402 Z" fill="#b6e5c9" stroke="#05ad4f" stroke-width="3.0"/>
<path d="M361.2,1355.85 L368.45,1363.1 L361.2,1370.35 L353.95,1363.1 Z" fill="#b6e5c9" stroke="#05ad4f" stroke-width="3.0"/>
<path d="M380.5,1347.35 L387.75,1354.6 L380.5,1361.85 L373.25,1354.6 Z" fill="#b6e5c9" stroke="#05ad4f" stroke-width="3.0"/>
<path d="M413.9,1333.75 L421.15,1341 L413.9,1348.25 L406.65,1341 Z" fill="#b6e5c9" stroke="#05ad4f" stroke-width="3.0"/>
<path d="M119.3,1617 C119.97,1616.18 123.56,1611.52 125,1610 C126.44,1608.48 129.85,1605.4 131.6,1604 C133.35,1602.6 138.09,1599.4 140,1598 C141.91,1596.6 145.88,1593.81 148,1592 C150.12,1590.19 156.06,1584.24 158.2,1582.5 C160.33,1580.76 164.2,1578.88 166.3,1577.1 C168.4,1575.31 174.31,1569.08 176.2,1567.2 C178.09,1565.32 180.61,1562.77 182.5,1561 C184.39,1559.23 190.42,1553.89 192.4,1552 C194.38,1550.11 197.94,1546.27 199.5,1544.8 C201.06,1543.33 203.91,1541.29 205.8,1539.4 C207.69,1537.51 213.7,1530.49 215.7,1528.6 C217.69,1526.71 221.22,1524.78 222.9,1523.2 C224.58,1521.62 228.21,1516.99 230.1,1515.1 C231.99,1513.21 237,1508.79 239.1,1507 C241.2,1505.21 246.21,1501.48 248.1,1499.8 C249.99,1498.12 253.41,1494.38 255.3,1492.6 C257.19,1490.81 262.59,1486.27 264.3,1484.5 C266.01,1482.73 268.33,1479.01 270,1477.4 C271.67,1475.79 276.38,1472.71 278.6,1470.7 C280.82,1468.69 286.89,1462.09 289,1460.2 C291.11,1458.31 294.91,1456.05 296.7,1454.5 C298.49,1452.95 302.53,1448.67 304.3,1446.9 C306.07,1445.13 310.13,1440.97 311.9,1439.3 C313.67,1437.63 317.73,1434.38 319.5,1432.6 C321.27,1430.81 325.09,1425.77 327.1,1424 C329.11,1422.23 334.69,1418.95 336.7,1417.4 C338.71,1415.85 342.53,1412.49 344.3,1410.7 C346.07,1408.91 350.13,1403.87 351.9,1402.1 C353.67,1400.33 357.73,1397.16 359.5,1395.5 C361.27,1393.84 365.09,1389.69 367.1,1387.9 C369.11,1386.12 374.69,1381.76 376.7,1380.2 C378.71,1378.64 382.53,1375.49 384.3,1374.5 C386.07,1373.51 390.13,1372.11 391.9,1371.7 C393.67,1371.29 397.73,1371.14 399.5,1371 C401.27,1370.86 404.87,1370.64 407.1,1370.5 C409.33,1370.36 416.37,1369.93 418.6,1369.8 C420.83,1369.67 423.54,1369.47 426.2,1369.4 C428.86,1369.33 439.09,1369.22 441.4,1369.2 C443.71,1369.18 445.46,1369.2 446,1369.2" fill="none" stroke="#05ad4f" stroke-width="4.0" stroke-dasharray="11 16.4" stroke-linecap="round" stroke-linejoin="round"/>
<path d="M119.3,1617 C119.97,1616.18 123.56,1611.52 125,1610 C126.44,1608.48 129.85,1605.4 131.6,1604 C133.35,1602.6 138.09,1599.4 140,1598 C141.91,1596.6 145.88,1593.81 148,1592 C150.12,1590.19 156.06,1584.24 158.2,1582.5 C160.33,1580.76 164.2,1578.88 166.3,1577.1 C168.4,1575.31 174.31,1569.08 176.2,1567.2 C178.09,1565.32 180.61,1562.77 182.5,1561 C184.39,1559.23 190.42,1553.89 192.4,1552 C194.38,1550.11 197.94,1546.27 199.5,1544.8 C201.06,1543.33 203.91,1541.29 205.8,1539.4 C207.69,1537.51 213.7,1530.49 215.7,1528.6 C217.69,1526.71 221.22,1524.78 222.9,1523.2 C224.58,1521.62 228.21,1516.99 230.1,1515.1 C231.99,1513.21 237,1508.79 239.1,1507 C241.2,1505.21 246.21,1501.48 248.1,1499.8 C249.99,1498.12 253.41,1494.38 255.3,1492.6 C257.19,1490.81 262.59,1486.27 264.3,1484.5 C266.01,1482.73 268.33,1479.01 270,1477.4 C271.67,1475.79 276.38,1472.71 278.6,1470.7 C280.82,1468.69 286.89,1462.09 289,1460.2 C291.11,1458.31 294.91,1456.05 296.7,1454.5 C298.49,1452.95 302.53,1448.67 304.3,1446.9 C306.07,1445.13 310.13,1440.97 311.9,1439.3 C313.67,1437.63 317.73,1434.38 319.5,1432.6 C321.27,1430.81 325.09,1425.77 327.1,1424 C329.11,1422.23 334.69,1418.95 336.7,1417.4 C338.71,1415.85 342.53,1412.49 344.3,1410.7 C346.07,1408.91 350.13,1403.87 351.9,1402.1 C353.67,1400.33 357.73,1397.16 359.5,1395.5 C361.27,1393.84 365.09,1389.69 367.1,1387.9 C369.11,1386.12 374.69,1381.76 376.7,1380.2 C378.71,1378.64 382.53,1375.49 384.3,1374.5 C386.07,1373.51 390.13,1372.11 391.9,1371.7 C393.67,1371.29 397.73,1371.14 399.5,1371 C401.27,1370.86 404.87,1370.64 407.1,1370.5 C409.33,1370.36 416.37,1369.93 418.6,1369.8 C420.83,1369.67 423.54,1369.47 426.2,1369.4 C428.86,1369.33 439.09,1369.22 441.4,1369.2 C443.71,1369.18 445.46,1369.2 446,1369.2" fill="none" stroke="#05ad4f" stroke-width="4.0" stroke-dasharray="0 7.7" stroke-linecap="round" stroke-linejoin="round"/>
<path d="M479.8,1623.75 L487.05,1631 L479.8,1638.25 L472.55,1631 Z" fill="#d4c1e3" stroke="#7030a0" stroke-width="3.0"/>
<path d="M484.8,1454.95 L492.05,1462.2 L484.8,1469.45 L477.55,1462.2 Z" fill="#d4c1e3" stroke="#7030a0" stroke-width="3.0"/>
<path d="M488.5,1419.75 L495.75,1427 L488.5,1434.25 L481.25,1427 Z" fill="#d4c1e3" stroke="#7030a0" stroke-width="3.0"/>
<path d="M491.5,1422.75 L498.75,1430 L491.5,1437.25 L484.25,1430 Z" fill="#d4c1e3" stroke="#7030a0" stroke-width="3.0"/>
<path d="M494.5,1425.25 L501.75,1432.5 L494.5,1439.75 L487.25,1432.5 Z" fill="#d4c1e3" stroke="#7030a0" stroke-width="3.0"/>
<path d="M497.6,1429.25 L504.85,1436.5 L497.6,1443.75 L490.35,1436.5 Z" fill="#d4c1e3" stroke="#7030a0" stroke-width="3.0"/>
<path d="M510.3,1484.25 L517.55,1491.5 L510.3,1498.75 L503.05,1491.5 Z" fill="#d4c1e3" stroke="#7030a0" stroke-width="3.0"/>
<path d="M518.7,1545.25 L525.95,1552.5 L518.7,1559.75 L511.45,1552.5 Z" fill="#d4c1e3" stroke="#7030a0" stroke-width="3.0"/>
<path d="M539.9,1607.75 L547.15,1615 L539.9,1622.25 L532.65,1615 Z" fill="#d4c1e3" stroke="#7030a0" stroke-width="3.0"/>
<path d="M554,1610.65 L561.25,1617.9 L554,1625.15 L546.75,1617.9 Z" fill="#d4c1e3" stroke="#7030a0" stroke-width="3.0"/>
<path d="M569.7,1615.95 L576.95,1623.2 L569.7,1630.45 L562.45,1623.2 Z" fill="#d4c1e3" stroke="#7030a0" stroke-width="3.0"/>
<path d="M588.2,1617.05 L595.45,1624.3 L588.2,1631.55 L580.95,1624.3 Z" fill="#d4c1e3" stroke="#7030a0" stroke-width="3.0"/>
<path d="M605.2,1616.55 L612.45,1623.8 L605.2,1631.05 L597.95,1623.8 Z" fill="#d4c1e3" stroke="#7030a0" stroke-width="3.0"/>
<path d="M618.3,1618.05 L625.55,1625.3 L618.3,1632.55 L611.05,1625.3 Z" fill="#d4c1e3" stroke="#7030a0" stroke-width="3.0"/>
<path d="M638.5,1617.95 L645.75,1625.2 L638.5,1632.45 L631.25,1625.2 Z" fill="#d4c1e3" stroke="#7030a0" stroke-width="3.0"/>
<path d="M667.3,1612.45 L674.55,1619.7 L667.3,1626.95 L660.05,1619.7 Z" fill="#d4c1e3" stroke="#7030a0" stroke-width="3.0"/>
<path d="M673.8,1617.45 L681.05,1624.7 L673.8,1631.95 L666.55,1624.7 Z" fill="#d4c1e3" stroke="#7030a0" stroke-width="3.0"/>
<path d="M699.3,1599.55 L706.55,1606.8 L699.3,1614.05 L692.05,1606.8 Z" fill="#d4c1e3" stroke="#7030a0" stroke-width="3.0"/>
<path d="M730.2,1613.65 L737.45,1620.9 L730.2,1628.15 L722.95,1620.9 Z" fill="#d4c1e3" stroke="#7030a0" stroke-width="3.0"/>
<path d="M750,1614.75 L757.25,1622 L750,1629.25 L742.75,1622 Z" fill="#d4c1e3" stroke="#7030a0" stroke-width="3.0"/>
<path d="M784.3,1616.65 L791.55,1623.9 L784.3,1631.15 L777.05,1623.9 Z" fill="#d4c1e3" stroke="#7030a0" stroke-width="3.0"/>
<path d="M481.4,1631 L481.4,1343 L484.3,1342.8 L489.5,1343.5 L490.5,1350 L491.2,1359.6 L492.2,1375.4 L493.2,1399.1 L494.5,1420 L496.2,1453.9 L497.1,1468.2 L498.1,1486 L499.5,1500.3 L501,1515 L502.5,1532.5 L504.5,1548 L507,1564 L510.5,1577 L514.7,1590 L518,1598 L522.3,1604.5 L530,1606.1 L537.6,1606.1 L554.5,1606.1 L561.3,1609 L570,1613 L581.6,1618.8 L588.4,1621.4 L598.5,1623.1 L607,1624.8 L618.8,1625.6 L640,1627.5 L680,1629.5 L720,1630.3 L823,1630.8" fill="none" stroke="#7030a0" stroke-width="4.0" stroke-dasharray="11 16.4" stroke-linecap="round" stroke-linejoin="round"/>
<path d="M481.4,1631 L481.4,1343 L484.3,1342.8 L489.5,1343.5 L490.5,1350 L491.2,1359.6 L492.2,1375.4 L493.2,1399.1 L494.5,1420 L496.2,1453.9 L497.1,1468.2 L498.1,1486 L499.5,1500.3 L501,1515 L502.5,1532.5 L504.5,1548 L507,1564 L510.5,1577 L514.7,1590 L518,1598 L522.3,1604.5 L530,1606.1 L537.6,1606.1 L554.5,1606.1 L561.3,1609 L570,1613 L581.6,1618.8 L588.4,1621.4 L598.5,1623.1 L607,1624.8 L618.8,1625.6 L640,1627.5 L680,1629.5 L720,1630.3 L823,1630.8" fill="none" stroke="#7030a0" stroke-width="4.0" stroke-dasharray="0 7.7" stroke-linecap="round" stroke-linejoin="round"/>
</svg>
</body></html>
